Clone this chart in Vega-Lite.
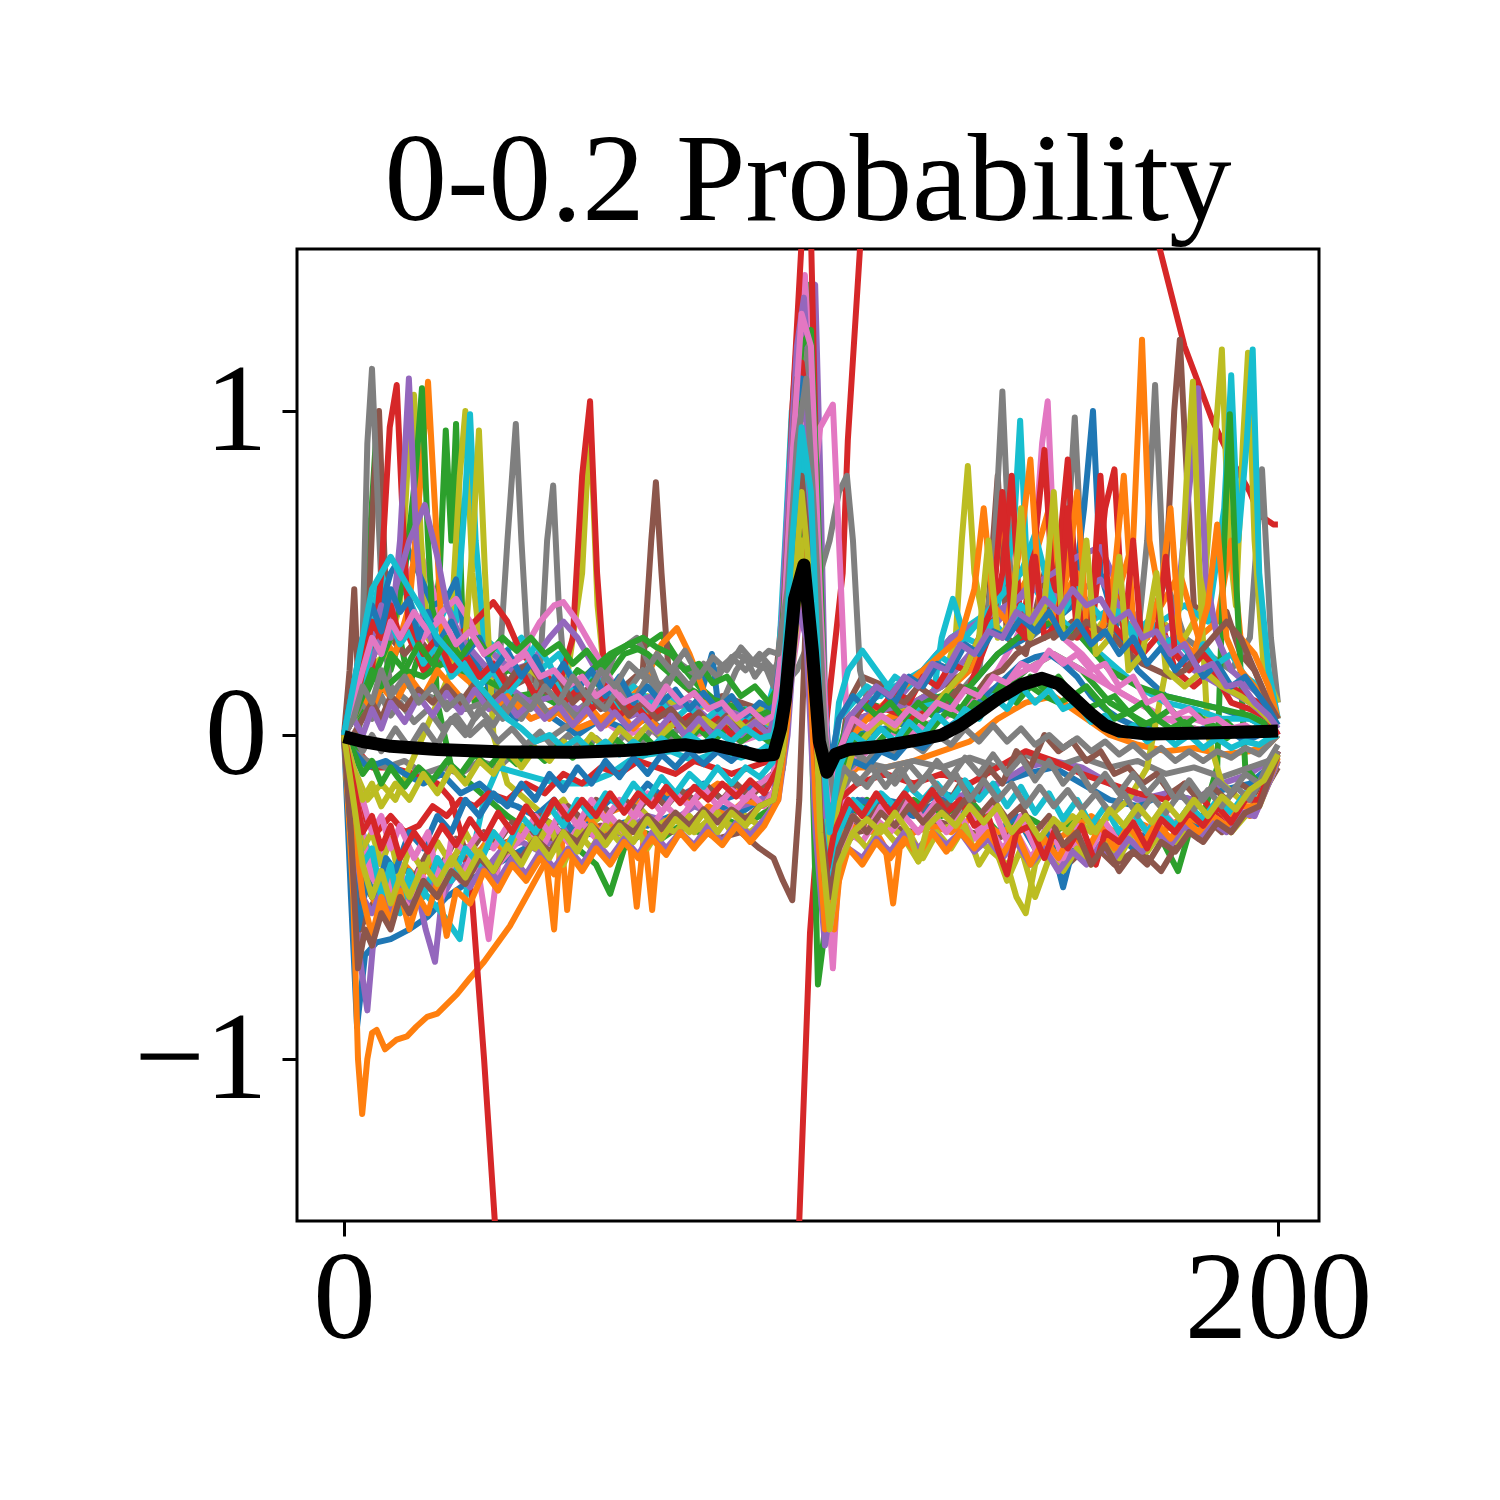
{
  "$schema": "https://vega.github.io/schema/vega-lite/v6.json",
  "width": 1022,
  "height": 972,
  "autosize": {"type": "none"},
  "padding": {"left": 297, "top": 249, "right": 181, "bottom": 279},
  "background": "white",
  "title": {
    "text": "0-0.2 Probability",
    "font": "Liberation Serif",
    "fontSize": 125,
    "fontWeight": "normal",
    "color": "black",
    "anchor": "middle",
    "baseline": "alphabetic",
    "offset": -96
  },
  "datasets": {
    "beats": [
      {"s":"s01","x":0,"y":0},{"s":"s01","x":1.5,"y":-0.5},{"s":"s01","x":2.8,"y":-0.9},{"s":"s01","x":4.5,"y":-0.68},{"s":"s01","x":7,"y":-0.64},{"s":"s01","x":10,"y":-0.63},{"s":"s01","x":14,"y":-0.6},{"s":"s01","x":18,"y":-0.56},{"s":"s01","x":22,"y":-0.5},{"s":"s01","x":26,"y":-0.46},{"s":"s01","x":30,"y":-0.42},{"s":"s01","x":35,"y":-0.38},{"s":"s01","x":40,"y":-0.34},{"s":"s01","x":45,"y":-0.33},{"s":"s01","x":50,"y":-0.3},{"s":"s01","x":55,"y":-0.31},{"s":"s01","x":60,"y":-0.27},{"s":"s01","x":65,"y":-0.28},{"s":"s01","x":70,"y":-0.25},{"s":"s01","x":75,"y":-0.26},{"s":"s01","x":80,"y":-0.22},{"s":"s01","x":85,"y":-0.24},{"s":"s01","x":89,"y":-0.2},{"s":"s01","x":92,"y":-0.18},{"s":"s01","x":94,"y":-0.05},{"s":"s01","x":96,"y":0.4},{"s":"s01","x":98,"y":0.85},{"s":"s01","x":100,"y":0.3},{"s":"s01","x":102,"y":-0.45},{"s":"s01","x":104,"y":-0.55},{"s":"s01","x":106,"y":-0.3},{"s":"s01","x":110,"y":-0.22},{"s":"s01","x":116,"y":-0.2},{"s":"s01","x":122,"y":-0.22},{"s":"s01","x":128,"y":-0.18},{"s":"s01","x":134,"y":-0.2},{"s":"s01","x":140,"y":-0.15},{"s":"s01","x":146,"y":-0.12},{"s":"s01","x":152,"y":-0.1},{"s":"s01","x":158,"y":-0.15},{"s":"s01","x":164,"y":-0.2},{"s":"s01","x":170,"y":-0.22},{"s":"s01","x":176,"y":-0.18},{"s":"s01","x":182,"y":-0.2},{"s":"s01","x":188,"y":-0.17},{"s":"s01","x":194,"y":-0.15},{"s":"s01","x":198,"y":-0.1},{"s":"s01","x":200,"y":-0.05},

      {"s":"s02","x":0,"y":0},{"s":"s02","x":2,"y":-0.5},{"s":"s02","x":3,"y":-1.0},{"s":"s02","x":3.9,"y":-1.17},{"s":"s02","x":5,"y":-1.0},{"s":"s02","x":6,"y":-0.92},{"s":"s02","x":7,"y":-0.91},{"s":"s02","x":8.8,"y":-0.97},{"s":"s02","x":11.3,"y":-0.94},{"s":"s02","x":13.5,"y":-0.93},{"s":"s02","x":15.5,"y":-0.9},{"s":"s02","x":17.8,"y":-0.87},{"s":"s02","x":20,"y":-0.86},{"s":"s02","x":24.2,"y":-0.8},{"s":"s02","x":27,"y":-0.75},{"s":"s02","x":30,"y":-0.7},{"s":"s02","x":35.5,"y":-0.59},{"s":"s02","x":39,"y":-0.5},{"s":"s02","x":42.8,"y":-0.4},{"s":"s02","x":46,"y":-0.33},{"s":"s02","x":50,"y":-0.3},{"s":"s02","x":55,"y":-0.25},{"s":"s02","x":60,"y":-0.22},{"s":"s02","x":65,"y":-0.2},{"s":"s02","x":70,"y":-0.18},{"s":"s02","x":75,"y":-0.2},{"s":"s02","x":80,"y":-0.15},{"s":"s02","x":85,"y":-0.17},{"s":"s02","x":89,"y":-0.15},{"s":"s02","x":92,"y":-0.12},{"s":"s02","x":94,"y":0.0},{"s":"s02","x":96,"y":0.3},{"s":"s02","x":98,"y":0.6},{"s":"s02","x":100,"y":0.2},{"s":"s02","x":102,"y":-0.35},{"s":"s02","x":104,"y":-0.3},{"s":"s02","x":106,"y":-0.15},{"s":"s02","x":110,"y":-0.1},{"s":"s02","x":116,"y":-0.1},{"s":"s02","x":122,"y":-0.08},{"s":"s02","x":128,"y":-0.05},{"s":"s02","x":134,"y":-0.02},{"s":"s02","x":140,"y":0.05},{"s":"s02","x":146,"y":0.1},{"s":"s02","x":152,"y":0.12},{"s":"s02","x":158,"y":0.06},{"s":"s02","x":164,"y":0.0},{"s":"s02","x":170,"y":-0.03},{"s":"s02","x":176,"y":-0.05},{"s":"s02","x":182,"y":-0.04},{"s":"s02","x":188,"y":-0.06},{"s":"s02","x":194,"y":-0.05},{"s":"s02","x":198,"y":-0.03},{"s":"s02","x":200,"y":0.0},

      {"s":"s03","x":0,"y":0},{"s":"s03","x":2,"y":0.1},{"s":"s03","x":4,"y":0.2},{"s":"s03","x":5.5,"y":0.6},{"s":"s03","x":7,"y":0.95},{"s":"s03","x":8.5,"y":0.5},{"s":"s03","x":10,"y":0.2},{"s":"s03","x":12,"y":0.3},{"s":"s03","x":14,"y":0.15},{"s":"s03","x":16,"y":0.25},{"s":"s03","x":18,"y":0.2},{"s":"s03","x":20.5,"y":0.5},{"s":"s03","x":21.8,"y":0.94},{"s":"s03","x":23,"y":0.6},{"s":"s03","x":24,"y":0.96},{"s":"s03","x":25.5,"y":0.3},{"s":"s03","x":28,"y":0.1},{"s":"s03","x":31,"y":0.15},{"s":"s03","x":35,"y":0.2},{"s":"s03","x":40,"y":0.18},{"s":"s03","x":45,"y":0.1},{"s":"s03","x":50,"y":0.2},{"s":"s03","x":55,"y":0.15},{"s":"s03","x":60,"y":0.25},{"s":"s03","x":64,"y":0.27},{"s":"s03","x":68,"y":0.31},{"s":"s03","x":72,"y":0.22},{"s":"s03","x":76,"y":0.15},{"s":"s03","x":80,"y":0.1},{"s":"s03","x":85,"y":0.05},{"s":"s03","x":89,"y":0.05},{"s":"s03","x":92,"y":0.08},{"s":"s03","x":94,"y":0.3},{"s":"s03","x":96,"y":0.8},{"s":"s03","x":98,"y":1.3},{"s":"s03","x":99.8,"y":1.39},{"s":"s03","x":101,"y":0.9},{"s":"s03","x":102.5,"y":0.0},{"s":"s03","x":104,"y":-0.4},{"s":"s03","x":106,"y":-0.2},{"s":"s03","x":110,"y":0.0},{"s":"s03","x":116,"y":0.05},{"s":"s03","x":122,"y":0.02},{"s":"s03","x":128,"y":0.0},{"s":"s03","x":134,"y":0.05},{"s":"s03","x":140,"y":0.12},{"s":"s03","x":146,"y":0.2},{"s":"s03","x":152,"y":0.25},{"s":"s03","x":158,"y":0.2},{"s":"s03","x":164,"y":0.1},{"s":"s03","x":170,"y":0.05},{"s":"s03","x":176,"y":0.0},{"s":"s03","x":182,"y":0.02},{"s":"s03","x":188,"y":0.0},{"s":"s03","x":194,"y":0.02},{"s":"s03","x":198,"y":0.0},{"s":"s03","x":200,"y":0.0},

      {"s":"s04","x":0,"y":0},{"s":"s04","x":3,"y":-0.05},{"s":"s04","x":6,"y":-0.1},{"s":"s04","x":10,"y":-0.1},{"s":"s04","x":15,"y":-0.12},{"s":"s04","x":20,"y":-0.15},{"s":"s04","x":23,"y":-0.2},{"s":"s04","x":25,"y":-0.3},{"s":"s04","x":27.4,"y":-0.5},{"s":"s04","x":30,"y":-1.0},{"s":"s04","x":32.3,"y":-1.5},{"s":"s04","x":35,"y":-2.1},{"s":"s04","x":45,"y":-3.4},{"s":"s04","x":60,"y":-4.2},{"s":"s04","x":75,"y":-4.3},{"s":"s04","x":88,"y":-3.4},{"s":"s04","x":95,"y":-2.3},{"s":"s04","x":97.5,"y":-1.5},{"s":"s04","x":99.8,"y":-0.61},{"s":"s04","x":103,"y":0.0},{"s":"s04","x":106.8,"y":0.5},{"s":"s04","x":107.9,"y":0.91},{"s":"s04","x":110.5,"y":1.5},{"s":"s04","x":115,"y":2.4},{"s":"s04","x":130,"y":3.5},{"s":"s04","x":150,"y":3.3},{"s":"s04","x":165,"y":2.5},{"s":"s04","x":172,"y":1.8},{"s":"s04","x":174.7,"y":1.5},{"s":"s04","x":180,"y":1.2},{"s":"s04","x":186,"y":0.97},{"s":"s04","x":190,"y":0.85},{"s":"s04","x":194,"y":0.75},{"s":"s04","x":196,"y":0.68},{"s":"s04","x":199,"y":0.65},{"s":"s04","x":200,"y":0.65},

      {"s":"s05","x":0,"y":0},{"s":"s05","x":2,"y":-0.4},{"s":"s05","x":3.5,"y":-0.7},{"s":"s05","x":5,"y":-0.85},{"s":"s05","x":6.5,"y":-0.6},{"s":"s05","x":8,"y":-0.55},{"s":"s05","x":10,"y":-0.5},{"s":"s05","x":12,"y":-0.55},{"s":"s05","x":14,"y":-0.45},{"s":"s05","x":16,"y":-0.5},{"s":"s05","x":17.5,"y":-0.6},{"s":"s05","x":19.5,"y":-0.7},{"s":"s05","x":21,"y":-0.5},{"s":"s05","x":23,"y":-0.45},{"s":"s05","x":26,"y":-0.4},{"s":"s05","x":30,"y":-0.42},{"s":"s05","x":34,"y":-0.35},{"s":"s05","x":38,"y":-0.33},{"s":"s05","x":42,"y":-0.36},{"s":"s05","x":46,"y":-0.3},{"s":"s05","x":50,"y":-0.28},{"s":"s05","x":55,"y":-0.32},{"s":"s05","x":60,"y":-0.3},{"s":"s05","x":65,"y":-0.25},{"s":"s05","x":70,"y":-0.27},{"s":"s05","x":75,"y":-0.22},{"s":"s05","x":80,"y":-0.25},{"s":"s05","x":85,"y":-0.22},{"s":"s05","x":89,"y":-0.2},{"s":"s05","x":92,"y":-0.18},{"s":"s05","x":94,"y":0.0},{"s":"s05","x":96,"y":0.5},{"s":"s05","x":98,"y":1.1},{"s":"s05","x":100.9,"y":1.39},{"s":"s05","x":102,"y":0.8},{"s":"s05","x":103.5,"y":-0.2},{"s":"s05","x":105,"y":-0.5},{"s":"s05","x":107,"y":-0.3},{"s":"s05","x":111,"y":-0.2},{"s":"s05","x":116,"y":-0.22},{"s":"s05","x":122,"y":-0.25},{"s":"s05","x":128,"y":-0.2},{"s":"s05","x":134,"y":-0.18},{"s":"s05","x":140,"y":-0.15},{"s":"s05","x":146,"y":-0.1},{"s":"s05","x":152,"y":-0.08},{"s":"s05","x":158,"y":-0.1},{"s":"s05","x":164,"y":-0.15},{"s":"s05","x":170,"y":-0.2},{"s":"s05","x":176,"y":-0.18},{"s":"s05","x":182,"y":-0.2},{"s":"s05","x":188,"y":-0.15},{"s":"s05","x":194,"y":-0.12},{"s":"s05","x":198,"y":-0.08},{"s":"s05","x":200,"y":-0.05},

      {"s":"s06","x":0,"y":0},{"s":"s06","x":1.2,"y":0.2},{"s":"s06","x":2.2,"y":0.45},{"s":"s06","x":3.2,"y":0.1},{"s":"s06","x":5,"y":0.3},{"s":"s06","x":6.5,"y":0.8},{"s":"s06","x":7.5,"y":1.0},{"s":"s06","x":8.8,"y":0.5},{"s":"s06","x":10,"y":0.3},{"s":"s06","x":13,"y":0.25},{"s":"s06","x":16,"y":0.3},{"s":"s06","x":20,"y":0.22},{"s":"s06","x":24,"y":0.28},{"s":"s06","x":28,"y":0.2},{"s":"s06","x":32,"y":0.22},{"s":"s06","x":36,"y":0.15},{"s":"s06","x":40,"y":0.18},{"s":"s06","x":45,"y":0.1},{"s":"s06","x":50,"y":0.12},{"s":"s06","x":55,"y":0.1},{"s":"s06","x":60,"y":0.15},{"s":"s06","x":64,"y":0.2},{"s":"s06","x":65.8,"y":0.6},{"s":"s06","x":66.8,"y":0.78},{"s":"s06","x":68,"y":0.5},{"s":"s06","x":69.5,"y":0.2},{"s":"s06","x":73,"y":0.15},{"s":"s06","x":77,"y":0.1},{"s":"s06","x":81,"y":0.12},{"s":"s06","x":85,"y":0.1},{"s":"s06","x":89,"y":0.08},{"s":"s06","x":92,"y":0.1},{"s":"s06","x":94,"y":0.4},{"s":"s06","x":96,"y":1.0},{"s":"s06","x":97.6,"y":1.35},{"s":"s06","x":99,"y":1.0},{"s":"s06","x":101,"y":0.3},{"s":"s06","x":103,"y":-0.3},{"s":"s06","x":105,"y":-0.2},{"s":"s06","x":108,"y":0.1},{"s":"s06","x":111,"y":0.18},{"s":"s06","x":116,"y":0.15},{"s":"s06","x":122,"y":0.1},{"s":"s06","x":128,"y":0.15},{"s":"s06","x":134,"y":0.2},{"s":"s06","x":138,"y":0.4},{"s":"s06","x":140,"y":0.8},{"s":"s06","x":142,"y":0.3},{"s":"s06","x":146,"y":0.25},{"s":"s06","x":150,"y":0.5},{"s":"s06","x":152,"y":0.3},{"s":"s06","x":156,"y":0.35},{"s":"s06","x":160,"y":0.3},{"s":"s06","x":164,"y":0.35},{"s":"s06","x":168,"y":0.25},{"s":"s06","x":172,"y":0.3},{"s":"s06","x":176,"y":0.5},{"s":"s06","x":177.8,"y":1.0},{"s":"s06","x":179,"y":1.22},{"s":"s06","x":180.5,"y":0.8},{"s":"s06","x":182,"y":0.4},{"s":"s06","x":186,"y":0.35},{"s":"s06","x":189,"y":0.38},{"s":"s06","x":192,"y":0.25},{"s":"s06","x":195,"y":0.2},{"s":"s06","x":198,"y":0.1},{"s":"s06","x":200,"y":0.05},

      {"s":"s07","x":0,"y":0},{"s":"s07","x":2,"y":0.1},{"s":"s07","x":5,"y":0.2},{"s":"s07","x":8,"y":0.3},{"s":"s07","x":11,"y":0.4},{"s":"s07","x":14,"y":0.5},{"s":"s07","x":16.3,"y":0.56},{"s":"s07","x":18,"y":0.5},{"s":"s07","x":20,"y":0.4},{"s":"s07","x":22,"y":0.3},{"s":"s07","x":24,"y":0.42},{"s":"s07","x":26,"y":0.3},{"s":"s07","x":29,"y":0.2},{"s":"s07","x":32,"y":0.15},{"s":"s07","x":36,"y":0.1},{"s":"s07","x":40,"y":0.05},{"s":"s07","x":45,"y":0.08},{"s":"s07","x":50,"y":0.02},{"s":"s07","x":55,"y":0.05},{"s":"s07","x":60,"y":0.0},{"s":"s07","x":65,"y":0.02},{"s":"s07","x":70,"y":-0.02},{"s":"s07","x":75,"y":0.0},{"s":"s07","x":80,"y":0.02},{"s":"s07","x":85,"y":-0.02},{"s":"s07","x":89,"y":0.0},{"s":"s07","x":92,"y":0.05},{"s":"s07","x":94,"y":0.3},{"s":"s07","x":96,"y":0.9},{"s":"s07","x":98.7,"y":1.42},{"s":"s07","x":100,"y":1.1},{"s":"s07","x":101.5,"y":0.3},{"s":"s07","x":103,"y":-0.4},{"s":"s07","x":104.7,"y":-0.72},{"s":"s07","x":106,"y":-0.4},{"s":"s07","x":108,"y":-0.1},{"s":"s07","x":112,"y":0.0},{"s":"s07","x":116,"y":0.02},{"s":"s07","x":122,"y":0.0},{"s":"s07","x":128,"y":0.05},{"s":"s07","x":134,"y":0.1},{"s":"s07","x":140,"y":0.2},{"s":"s07","x":144,"y":0.3},{"s":"s07","x":147,"y":0.4},{"s":"s07","x":149.5,"y":0.9},{"s":"s07","x":150.7,"y":1.03},{"s":"s07","x":152,"y":0.6},{"s":"s07","x":154,"y":0.3},{"s":"s07","x":158,"y":0.25},{"s":"s07","x":164,"y":0.15},{"s":"s07","x":170,"y":0.1},{"s":"s07","x":176,"y":0.05},{"s":"s07","x":182,"y":0.05},{"s":"s07","x":188,"y":0.02},{"s":"s07","x":194,"y":0.0},{"s":"s07","x":198,"y":0.0},{"s":"s07","x":200,"y":0.0},

      {"s":"s08","x":0,"y":0},{"s":"s08","x":2,"y":0.1},{"s":"s08","x":4,"y":0.3},{"s":"s08","x":5,"y":0.9},{"s":"s08","x":6,"y":1.13},{"s":"s08","x":7,"y":0.8},{"s":"s08","x":8.5,"y":0.3},{"s":"s08","x":10,"y":0.15},{"s":"s08","x":14,"y":0.1},{"s":"s08","x":18,"y":0.12},{"s":"s08","x":22,"y":0.1},{"s":"s08","x":26,"y":0.08},{"s":"s08","x":30,"y":0.1},{"s":"s08","x":33,"y":0.15},{"s":"s08","x":35,"y":0.6},{"s":"s08","x":36.8,"y":0.96},{"s":"s08","x":38,"y":0.6},{"s":"s08","x":40,"y":0.1},{"s":"s08","x":42,"y":0.2},{"s":"s08","x":43.5,"y":0.6},{"s":"s08","x":44.8,"y":0.77},{"s":"s08","x":46,"y":0.4},{"s":"s08","x":48,"y":0.05},{"s":"s08","x":52,"y":0.1},{"s":"s08","x":56,"y":0.08},{"s":"s08","x":60,"y":0.12},{"s":"s08","x":64,"y":0.2},{"s":"s08","x":68,"y":0.15},{"s":"s08","x":72,"y":0.22},{"s":"s08","x":76,"y":0.18},{"s":"s08","x":80,"y":0.2},{"s":"s08","x":84,"y":0.25},{"s":"s08","x":88,"y":0.22},{"s":"s08","x":91,"y":0.2},{"s":"s08","x":94,"y":0.15},{"s":"s08","x":97,"y":0.2},{"s":"s08","x":100,"y":0.3},{"s":"s08","x":102,"y":0.5},{"s":"s08","x":104,"y":0.6},{"s":"s08","x":106,"y":0.75},{"s":"s08","x":107.7,"y":0.8},{"s":"s08","x":109,"y":0.6},{"s":"s08","x":110.5,"y":0.2},{"s":"s08","x":113,"y":0.05},{"s":"s08","x":118,"y":0.05},{"s":"s08","x":124,"y":0.08},{"s":"s08","x":130,"y":0.1},{"s":"s08","x":136,"y":0.2},{"s":"s08","x":139,"y":0.5},{"s":"s08","x":141,"y":1.06},{"s":"s08","x":143,"y":0.4},{"s":"s08","x":147,"y":0.3},{"s":"s08","x":151,"y":0.35},{"s":"s08","x":154,"y":0.4},{"s":"s08","x":156.5,"y":0.98},{"s":"s08","x":158.5,"y":0.4},{"s":"s08","x":162,"y":0.3},{"s":"s08","x":166,"y":0.35},{"s":"s08","x":170,"y":0.3},{"s":"s08","x":172,"y":0.6},{"s":"s08","x":173.7,"y":1.08},{"s":"s08","x":175.5,"y":0.5},{"s":"s08","x":180,"y":0.3},{"s":"s08","x":185,"y":0.25},{"s":"s08","x":190,"y":0.2},{"s":"s08","x":194,"y":0.3},{"s":"s08","x":196.6,"y":0.82},{"s":"s08","x":198.5,"y":0.3},{"s":"s08","x":200,"y":0.1},

      {"s":"s09","x":0,"y":0},{"s":"s09","x":2,"y":0.1},{"s":"s09","x":5,"y":0.2},{"s":"s09","x":9,"y":0.25},{"s":"s09","x":12,"y":0.4},{"s":"s09","x":13.5,"y":0.8},{"s":"s09","x":15,"y":1.05},{"s":"s09","x":16.5,"y":0.6},{"s":"s09","x":18,"y":0.3},{"s":"s09","x":20,"y":0.25},{"s":"s09","x":23,"y":0.35},{"s":"s09","x":24.8,"y":0.8},{"s":"s09","x":26,"y":1.0},{"s":"s09","x":27.5,"y":0.5},{"s":"s09","x":29,"y":0.3},{"s":"s09","x":32,"y":0.25},{"s":"s09","x":36,"y":0.2},{"s":"s09","x":40,"y":0.2},{"s":"s09","x":44,"y":0.15},{"s":"s09","x":48,"y":0.2},{"s":"s09","x":51,"y":0.5},{"s":"s09","x":52.7,"y":0.98},{"s":"s09","x":54.3,"y":0.4},{"s":"s09","x":56,"y":0.15},{"s":"s09","x":60,"y":0.1},{"s":"s09","x":65,"y":0.12},{"s":"s09","x":70,"y":0.1},{"s":"s09","x":75,"y":0.08},{"s":"s09","x":80,"y":0.1},{"s":"s09","x":85,"y":0.05},{"s":"s09","x":89,"y":0.08},{"s":"s09","x":92,"y":0.1},{"s":"s09","x":94,"y":0.3},{"s":"s09","x":96,"y":0.7},{"s":"s09","x":98,"y":1.1},{"s":"s09","x":99.5,"y":1.2},{"s":"s09","x":101,"y":0.7},{"s":"s09","x":102.5,"y":0.0},{"s":"s09","x":104,"y":-0.3},{"s":"s09","x":106,"y":-0.15},{"s":"s09","x":110,"y":0.0},{"s":"s09","x":116,"y":0.05},{"s":"s09","x":122,"y":0.1},{"s":"s09","x":128,"y":0.15},{"s":"s09","x":131,"y":0.3},{"s":"s09","x":132.3,"y":0.6},{"s":"s09","x":133.6,"y":0.83},{"s":"s09","x":135,"y":0.5},{"s":"s09","x":137,"y":0.35},{"s":"s09","x":141,"y":0.3},{"s":"s09","x":146,"y":0.4},{"s":"s09","x":150,"y":0.35},{"s":"s09","x":155,"y":0.45},{"s":"s09","x":160,"y":0.3},{"s":"s09","x":165,"y":0.4},{"s":"s09","x":170,"y":0.3},{"s":"s09","x":175,"y":0.35},{"s":"s09","x":180,"y":0.3},{"s":"s09","x":184,"y":0.4},{"s":"s09","x":186.5,"y":0.9},{"s":"s09","x":188,"y":1.19},{"s":"s09","x":189.5,"y":0.6},{"s":"s09","x":191,"y":0.4},{"s":"s09","x":192.5,"y":0.9},{"s":"s09","x":193.6,"y":1.18},{"s":"s09","x":195,"y":0.6},{"s":"s09","x":197,"y":0.2},{"s":"s09","x":200,"y":0.1},

      {"s":"s10","x":0,"y":0},{"s":"s10","x":2,"y":0.15},{"s":"s10","x":5,"y":0.3},{"s":"s10","x":8,"y":0.5},{"s":"s10","x":10,"y":0.4},{"s":"s10","x":13,"y":0.45},{"s":"s10","x":16,"y":0.35},{"s":"s10","x":19,"y":0.3},{"s":"s10","x":22,"y":0.4},{"s":"s10","x":24,"y":0.35},{"s":"s10","x":25.8,"y":0.7},{"s":"s10","x":27,"y":0.99},{"s":"s10","x":28.2,"y":0.6},{"s":"s10","x":30,"y":0.3},{"s":"s10","x":34,"y":0.25},{"s":"s10","x":38,"y":0.3},{"s":"s10","x":42,"y":0.2},{"s":"s10","x":46,"y":0.25},{"s":"s10","x":50,"y":0.15},{"s":"s10","x":54,"y":0.2},{"s":"s10","x":58,"y":0.1},{"s":"s10","x":62,"y":0.15},{"s":"s10","x":66,"y":0.1},{"s":"s10","x":70,"y":0.12},{"s":"s10","x":74,"y":0.08},{"s":"s10","x":78,"y":0.1},{"s":"s10","x":82,"y":0.05},{"s":"s10","x":86,"y":0.08},{"s":"s10","x":90,"y":0.05},{"s":"s10","x":93,"y":0.2},{"s":"s10","x":94.5,"y":0.6},{"s":"s10","x":95.9,"y":1.0},{"s":"s10","x":97.5,"y":0.9},{"s":"s10","x":99,"y":0.4},{"s":"s10","x":101,"y":0.0},{"s":"s10","x":103,"y":-0.4},{"s":"s10","x":105,"y":-0.2},{"s":"s10","x":108,"y":0.05},{"s":"s10","x":112,"y":0.1},{"s":"s10","x":118,"y":0.15},{"s":"s10","x":124,"y":0.2},{"s":"s10","x":130,"y":0.3},{"s":"s10","x":135,"y":0.35},{"s":"s10","x":140,"y":0.4},{"s":"s10","x":143.3,"y":0.6},{"s":"s10","x":144.8,"y":0.97},{"s":"s10","x":146.3,"y":0.5},{"s":"s10","x":150,"y":0.4},{"s":"s10","x":155,"y":0.45},{"s":"s10","x":160,"y":0.35},{"s":"s10","x":165,"y":0.4},{"s":"s10","x":170,"y":0.3},{"s":"s10","x":175,"y":0.35},{"s":"s10","x":180,"y":0.4},{"s":"s10","x":185,"y":0.35},{"s":"s10","x":188.5,"y":0.7},{"s":"s10","x":190,"y":1.11},{"s":"s10","x":191.5,"y":0.6},{"s":"s10","x":193.3,"y":0.9},{"s":"s10","x":194.6,"y":1.19},{"s":"s10","x":196,"y":0.5},{"s":"s10","x":198,"y":0.2},{"s":"s10","x":200,"y":0.05},

      {"s":"s11","x":0,"y":0},{"s":"s11","x":2,"y":0.1},{"s":"s11","x":4,"y":0.2},{"s":"s11","x":7,"y":0.35},{"s":"s11","x":10,"y":0.5},{"s":"s11","x":13.5,"y":0.58},{"s":"s11","x":16,"y":0.5},{"s":"s11","x":19,"y":0.4},{"s":"s11","x":22,"y":0.42},{"s":"s11","x":24,"y":0.48},{"s":"s11","x":26,"y":0.3},{"s":"s11","x":29,"y":0.2},{"s":"s11","x":33,"y":0.1},{"s":"s11","x":37,"y":0.05},{"s":"s11","x":41,"y":0.1},{"s":"s11","x":45,"y":0.05},{"s":"s11","x":50,"y":0.0},{"s":"s11","x":55,"y":0.05},{"s":"s11","x":60,"y":0.02},{"s":"s11","x":65,"y":0.05},{"s":"s11","x":70,"y":0.0},{"s":"s11","x":74,"y":0.05},{"s":"s11","x":76,"y":0.1},{"s":"s11","x":78.8,"y":0.25},{"s":"s11","x":80.5,"y":0.05},{"s":"s11","x":84,"y":0.0},{"s":"s11","x":88,"y":0.02},{"s":"s11","x":91,"y":0.0},{"s":"s11","x":93,"y":0.05},{"s":"s11","x":95,"y":0.4},{"s":"s11","x":97,"y":0.8},{"s":"s11","x":99,"y":0.9},{"s":"s11","x":100.5,"y":0.5},{"s":"s11","x":102,"y":-0.2},{"s":"s11","x":104,"y":-0.3},{"s":"s11","x":106,"y":-0.1},{"s":"s11","x":110,"y":0.0},{"s":"s11","x":116,"y":0.02},{"s":"s11","x":122,"y":0.05},{"s":"s11","x":128,"y":0.08},{"s":"s11","x":134,"y":0.15},{"s":"s11","x":140,"y":0.25},{"s":"s11","x":146,"y":0.3},{"s":"s11","x":152,"y":0.35},{"s":"s11","x":156,"y":0.4},{"s":"s11","x":158.5,"y":0.7},{"s":"s11","x":160.4,"y":1.0},{"s":"s11","x":162,"y":0.5},{"s":"s11","x":166,"y":0.3},{"s":"s11","x":170,"y":0.2},{"s":"s11","x":176,"y":0.12},{"s":"s11","x":182,"y":0.1},{"s":"s11","x":188,"y":0.08},{"s":"s11","x":194,"y":0.05},{"s":"s11","x":198,"y":0.02},{"s":"s11","x":200,"y":0.0},

      {"s":"s12","x":0,"y":0},{"s":"s12","x":2,"y":0.1},{"s":"s12","x":5,"y":0.2},{"s":"s12","x":8,"y":0.3},{"s":"s12","x":11,"y":0.25},{"s":"s12","x":14,"y":0.4},{"s":"s12","x":16.5,"y":0.8},{"s":"s12","x":18,"y":1.09},{"s":"s12","x":19.5,"y":0.7},{"s":"s12","x":21,"y":0.3},{"s":"s12","x":24,"y":0.2},{"s":"s12","x":28,"y":0.15},{"s":"s12","x":32,"y":0.1},{"s":"s12","x":36,"y":0.12},{"s":"s12","x":40,"y":0.05},{"s":"s12","x":45,"y":0.08},{"s":"s12","x":50,"y":0.02},{"s":"s12","x":55,"y":0.05},{"s":"s12","x":60,"y":0.1},{"s":"s12","x":64,"y":0.15},{"s":"s12","x":68,"y":0.28},{"s":"s12","x":71.3,"y":0.33},{"s":"s12","x":74,"y":0.25},{"s":"s12","x":78,"y":0.1},{"s":"s12","x":82,"y":0.05},{"s":"s12","x":86,"y":0.02},{"s":"s12","x":90,"y":0.0},{"s":"s12","x":93,"y":0.05},{"s":"s12","x":95,"y":0.2},{"s":"s12","x":97,"y":0.5},{"s":"s12","x":98.8,"y":0.55},{"s":"s12","x":100.5,"y":0.3},{"s":"s12","x":102,"y":-0.1},{"s":"s12","x":104,"y":-0.2},{"s":"s12","x":106,"y":-0.05},{"s":"s12","x":110,"y":0.05},{"s":"s12","x":116,"y":0.05},{"s":"s12","x":122,"y":0.08},{"s":"s12","x":128,"y":0.12},{"s":"s12","x":134,"y":0.2},{"s":"s12","x":138,"y":0.3},{"s":"s12","x":141,"y":0.7},{"s":"s12","x":143,"y":0.4},{"s":"s12","x":147,"y":0.5},{"s":"s12","x":151,"y":0.7},{"s":"s12","x":153,"y":0.4},{"s":"s12","x":157,"y":0.5},{"s":"s12","x":161,"y":0.3},{"s":"s12","x":165,"y":0.4},{"s":"s12","x":169,"y":0.6},{"s":"s12","x":170.9,"y":1.22},{"s":"s12","x":172.5,"y":0.6},{"s":"s12","x":175,"y":0.4},{"s":"s12","x":179,"y":0.5},{"s":"s12","x":183,"y":0.3},{"s":"s12","x":187,"y":0.35},{"s":"s12","x":190,"y":0.6},{"s":"s12","x":192,"y":0.3},{"s":"s12","x":195,"y":0.25},{"s":"s12","x":198,"y":0.15},{"s":"s12","x":200,"y":0.05},

      {"s":"s13","x":0,"y":0},{"s":"s13","x":2,"y":-0.1},{"s":"s13","x":4,"y":0.1},{"s":"s13","x":7,"y":0.2},{"s":"s13","x":10,"y":0.3},{"s":"s13","x":13,"y":0.5},{"s":"s13","x":15.3,"y":0.8},{"s":"s13","x":16.7,"y":1.07},{"s":"s13","x":18,"y":0.6},{"s":"s13","x":20,"y":0.1},{"s":"s13","x":23,"y":-0.1},{"s":"s13","x":27,"y":-0.15},{"s":"s13","x":31,"y":-0.2},{"s":"s13","x":35,"y":-0.25},{"s":"s13","x":40,"y":-0.3},{"s":"s13","x":45,"y":-0.28},{"s":"s13","x":50,"y":-0.35},{"s":"s13","x":54,"y":-0.4},{"s":"s13","x":57,"y":-0.49},{"s":"s13","x":60,"y":-0.35},{"s":"s13","x":64,"y":-0.3},{"s":"s13","x":68,"y":-0.32},{"s":"s13","x":72,"y":-0.28},{"s":"s13","x":76,"y":-0.3},{"s":"s13","x":80,"y":-0.25},{"s":"s13","x":85,"y":-0.28},{"s":"s13","x":89,"y":-0.25},{"s":"s13","x":92,"y":-0.22},{"s":"s13","x":94,"y":-0.1},{"s":"s13","x":96,"y":0.3},{"s":"s13","x":98,"y":0.7},{"s":"s13","x":99.5,"y":0.5},{"s":"s13","x":100.5,"y":-0.2},{"s":"s13","x":101.5,"y":-0.77},{"s":"s13","x":103,"y":-0.6},{"s":"s13","x":105,"y":-0.35},{"s":"s13","x":108,"y":-0.25},{"s":"s13","x":112,"y":-0.2},{"s":"s13","x":116,"y":-0.25},{"s":"s13","x":122,"y":-0.2},{"s":"s13","x":128,"y":-0.25},{"s":"s13","x":134,"y":-0.2},{"s":"s13","x":140,"y":-0.3},{"s":"s13","x":146,"y":-0.25},{"s":"s13","x":152,"y":-0.3},{"s":"s13","x":158,"y":-0.25},{"s":"s13","x":164,"y":-0.3},{"s":"s13","x":170,"y":-0.28},{"s":"s13","x":175,"y":-0.32},{"s":"s13","x":178.6,"y":-0.42},{"s":"s13","x":181,"y":-0.3},{"s":"s13","x":184,"y":-0.25},{"s":"s13","x":187,"y":-0.1},{"s":"s13","x":188.5,"y":0.6},{"s":"s13","x":189.7,"y":0.99},{"s":"s13","x":191,"y":0.5},{"s":"s13","x":193,"y":-0.1},{"s":"s13","x":196,"y":-0.15},{"s":"s13","x":198,"y":-0.1},{"s":"s13","x":200,"y":-0.05},

      {"s":"s14","x":0,"y":0},{"s":"s14","x":2,"y":0.1},{"s":"s14","x":4,"y":0.3},{"s":"s14","x":6,"y":0.2},{"s":"s14","x":8,"y":0.5},{"s":"s14","x":9.8,"y":0.95},{"s":"s14","x":11.3,"y":1.08},{"s":"s14","x":12.8,"y":0.6},{"s":"s14","x":14,"y":0.3},{"s":"s14","x":17,"y":0.2},{"s":"s14","x":20,"y":0.25},{"s":"s14","x":24,"y":0.3},{"s":"s14","x":28,"y":0.35},{"s":"s14","x":32,"y":0.41},{"s":"s14","x":35,"y":0.35},{"s":"s14","x":38,"y":0.25},{"s":"s14","x":42,"y":0.2},{"s":"s14","x":46,"y":0.15},{"s":"s14","x":49,"y":0.3},{"s":"s14","x":51,"y":0.8},{"s":"s14","x":52.7,"y":1.03},{"s":"s14","x":54.2,"y":0.5},{"s":"s14","x":56,"y":0.15},{"s":"s14","x":60,"y":0.1},{"s":"s14","x":64,"y":0.05},{"s":"s14","x":68,"y":0.08},{"s":"s14","x":72,"y":0.05},{"s":"s14","x":76,"y":0.02},{"s":"s14","x":80,"y":0.05},{"s":"s14","x":84,"y":0.0},{"s":"s14","x":88,"y":0.02},{"s":"s14","x":92,"y":0.05},{"s":"s14","x":94,"y":0.3},{"s":"s14","x":96,"y":1.0},{"s":"s14","x":98.3,"y":1.6},{"s":"s14","x":100,"y":1.55},{"s":"s14","x":101.5,"y":0.6},{"s":"s14","x":103,"y":-0.2},{"s":"s14","x":105,"y":-0.35},{"s":"s14","x":107,"y":-0.1},{"s":"s14","x":110,"y":0.05},{"s":"s14","x":116,"y":0.08},{"s":"s14","x":122,"y":0.05},{"s":"s14","x":128,"y":0.1},{"s":"s14","x":134,"y":0.15},{"s":"s14","x":138,"y":0.3},{"s":"s14","x":141,"y":0.5},{"s":"s14","x":143,"y":0.8},{"s":"s14","x":145,"y":0.3},{"s":"s14","x":148,"y":0.6},{"s":"s14","x":150,"y":0.88},{"s":"s14","x":152,"y":0.4},{"s":"s14","x":155,"y":0.85},{"s":"s14","x":157,"y":0.4},{"s":"s14","x":160,"y":0.3},{"s":"s14","x":163,"y":0.7},{"s":"s14","x":165,"y":0.82},{"s":"s14","x":167,"y":0.3},{"s":"s14","x":170,"y":0.25},{"s":"s14","x":174,"y":0.4},{"s":"s14","x":178,"y":0.2},{"s":"s14","x":182,"y":0.15},{"s":"s14","x":186,"y":0.2},{"s":"s14","x":190,"y":0.1},{"s":"s14","x":194,"y":0.08},{"s":"s14","x":198,"y":0.05},{"s":"s14","x":200,"y":0.0},

      {"s":"s15","x":0,"y":0},{"s":"s15","x":2,"y":0.1},{"s":"s15","x":5,"y":0.25},{"s":"s15","x":8,"y":0.4},{"s":"s15","x":10,"y":0.3},{"s":"s15","x":12,"y":0.6},{"s":"s15","x":13.9,"y":1.1},{"s":"s15","x":15.5,"y":0.6},{"s":"s15","x":17,"y":0.35},{"s":"s15","x":20,"y":0.25},{"s":"s15","x":24,"y":0.2},{"s":"s15","x":28,"y":0.3},{"s":"s15","x":32,"y":0.25},{"s":"s15","x":36,"y":0.2},{"s":"s15","x":40,"y":0.22},{"s":"s15","x":44,"y":0.3},{"s":"s15","x":47,"y":0.35},{"s":"s15","x":50,"y":0.3},{"s":"s15","x":54,"y":0.2},{"s":"s15","x":58,"y":0.15},{"s":"s15","x":62,"y":0.1},{"s":"s15","x":66,"y":0.12},{"s":"s15","x":70,"y":0.08},{"s":"s15","x":74,"y":0.1},{"s":"s15","x":78,"y":0.05},{"s":"s15","x":82,"y":0.08},{"s":"s15","x":86,"y":0.05},{"s":"s15","x":90,"y":0.05},{"s":"s15","x":93,"y":0.15},{"s":"s15","x":95,"y":0.7},{"s":"s15","x":97,"y":1.2},{"s":"s15","x":98.5,"y":1.35},{"s":"s15","x":100,"y":1.0},{"s":"s15","x":101.5,"y":0.4},{"s":"s15","x":103,"y":-0.1},{"s":"s15","x":105,"y":-0.2},{"s":"s15","x":108,"y":0.0},{"s":"s15","x":112,"y":0.05},{"s":"s15","x":118,"y":0.1},{"s":"s15","x":124,"y":0.2},{"s":"s15","x":130,"y":0.3},{"s":"s15","x":136,"y":0.35},{"s":"s15","x":142,"y":0.4},{"s":"s15","x":148,"y":0.45},{"s":"s15","x":154,"y":0.42},{"s":"s15","x":158,"y":0.45},{"s":"s15","x":162,"y":0.48},{"s":"s15","x":166,"y":0.4},{"s":"s15","x":170,"y":0.35},{"s":"s15","x":174,"y":0.3},{"s":"s15","x":178,"y":0.35},{"s":"s15","x":181.3,"y":0.8},{"s":"s15","x":182.9,"y":1.07},{"s":"s15","x":184.5,"y":0.5},{"s":"s15","x":187,"y":0.3},{"s":"s15","x":190,"y":0.2},{"s":"s15","x":194,"y":0.15},{"s":"s15","x":198,"y":0.1},{"s":"s15","x":200,"y":0.05},

      {"s":"s16","x":0,"y":0},{"s":"s16","x":2,"y":-0.3},{"s":"s16","x":3.5,"y":-0.6},{"s":"s16","x":5,"y":-0.55},{"s":"s16","x":7,"y":-0.5},{"s":"s16","x":10,"y":-0.48},{"s":"s16","x":13,"y":-0.45},{"s":"s16","x":17,"y":-0.42},{"s":"s16","x":21,"y":-0.4},{"s":"s16","x":25,"y":-0.38},{"s":"s16","x":30,"y":-0.35},{"s":"s16","x":35,"y":-0.33},{"s":"s16","x":40,"y":-0.3},{"s":"s16","x":45,"y":-0.32},{"s":"s16","x":50,"y":-0.3},{"s":"s16","x":55,"y":-0.28},{"s":"s16","x":60,"y":-0.3},{"s":"s16","x":65,"y":-0.27},{"s":"s16","x":70,"y":-0.3},{"s":"s16","x":75,"y":-0.28},{"s":"s16","x":80,"y":-0.32},{"s":"s16","x":85,"y":-0.3},{"s":"s16","x":89,"y":-0.35},{"s":"s16","x":92,"y":-0.38},{"s":"s16","x":94,"y":-0.45},{"s":"s16","x":96,"y":-0.51},{"s":"s16","x":97.5,"y":-0.2},{"s":"s16","x":99,"y":0.4},{"s":"s16","x":100.5,"y":0.2},{"s":"s16","x":102,"y":-0.4},{"s":"s16","x":104,"y":-0.5},{"s":"s16","x":106,"y":-0.35},{"s":"s16","x":110,"y":-0.3},{"s":"s16","x":116,"y":-0.28},{"s":"s16","x":122,"y":-0.3},{"s":"s16","x":128,"y":-0.27},{"s":"s16","x":134,"y":-0.3},{"s":"s16","x":140,"y":-0.32},{"s":"s16","x":145,"y":-0.28},{"s":"s16","x":150,"y":-0.35},{"s":"s16","x":155,"y":-0.4},{"s":"s16","x":160,"y":-0.33},{"s":"s16","x":165,"y":-0.4},{"s":"s16","x":170,"y":-0.35},{"s":"s16","x":175,"y":-0.42},{"s":"s16","x":180,"y":-0.3},{"s":"s16","x":184,"y":-0.25},{"s":"s16","x":188,"y":-0.3},{"s":"s16","x":192,"y":-0.25},{"s":"s16","x":196,"y":-0.2},{"s":"s16","x":198,"y":-0.15},{"s":"s16","x":200,"y":-0.1},

      {"s":"s17","x":0,"y":0},{"s":"s17","x":2,"y":0.05},{"s":"s17","x":5,"y":0.1},{"s":"s17","x":9,"y":0.15},{"s":"s17","x":13,"y":0.2},{"s":"s17","x":17,"y":0.3},{"s":"s17","x":21,"y":0.38},{"s":"s17","x":24,"y":0.42},{"s":"s17","x":27,"y":0.35},{"s":"s17","x":30,"y":0.25},{"s":"s17","x":34,"y":0.2},{"s":"s17","x":38,"y":0.25},{"s":"s17","x":42,"y":0.35},{"s":"s17","x":45,"y":0.4},{"s":"s17","x":47,"y":0.41},{"s":"s17","x":50,"y":0.35},{"s":"s17","x":54,"y":0.25},{"s":"s17","x":58,"y":0.15},{"s":"s17","x":62,"y":0.1},{"s":"s17","x":66,"y":0.08},{"s":"s17","x":70,"y":0.05},{"s":"s17","x":75,"y":0.02},{"s":"s17","x":80,"y":0.0},{"s":"s17","x":85,"y":0.02},{"s":"s17","x":89,"y":0.0},{"s":"s17","x":92,"y":0.02},{"s":"s17","x":95,"y":0.1},{"s":"s17","x":98,"y":0.4},{"s":"s17","x":100,"y":0.7},{"s":"s17","x":102,"y":0.95},{"s":"s17","x":104.7,"y":1.02},{"s":"s17","x":106,"y":0.6},{"s":"s17","x":107.5,"y":0.1},{"s":"s17","x":109,"y":-0.1},{"s":"s17","x":112,"y":-0.05},{"s":"s17","x":116,"y":0.0},{"s":"s17","x":122,"y":0.02},{"s":"s17","x":128,"y":0.05},{"s":"s17","x":134,"y":0.1},{"s":"s17","x":140,"y":0.15},{"s":"s17","x":146,"y":0.2},{"s":"s17","x":152,"y":0.25},{"s":"s17","x":158,"y":0.2},{"s":"s17","x":164,"y":0.15},{"s":"s17","x":170,"y":0.1},{"s":"s17","x":176,"y":0.05},{"s":"s17","x":182,"y":0.02},{"s":"s17","x":188,"y":0.0},{"s":"s17","x":194,"y":0.0},{"s":"s17","x":198,"y":0.0},{"s":"s17","x":200,"y":0.0},

      {"s":"s18","x":0,"y":0},{"s":"s18","x":2,"y":-0.05},{"s":"s18","x":5,"y":-0.08},{"s":"s18","x":9,"y":-0.1},{"s":"s18","x":13,"y":-0.08},{"s":"s18","x":17,"y":-0.12},{"s":"s18","x":21,"y":-0.1},{"s":"s18","x":25,"y":-0.12},{"s":"s18","x":29,"y":-0.08},{"s":"s18","x":33,"y":-0.1},{"s":"s18","x":37,"y":-0.05},{"s":"s18","x":41,"y":-0.02},{"s":"s18","x":45,"y":0.0},{"s":"s18","x":50,"y":0.05},{"s":"s18","x":55,"y":0.15},{"s":"s18","x":58,"y":0.25},{"s":"s18","x":62.7,"y":0.3},{"s":"s18","x":66,"y":0.2},{"s":"s18","x":70,"y":0.05},{"s":"s18","x":74,"y":-0.02},{"s":"s18","x":78,"y":-0.05},{"s":"s18","x":82,"y":-0.03},{"s":"s18","x":86,"y":-0.05},{"s":"s18","x":90,"y":-0.06},{"s":"s18","x":93,"y":0.0},{"s":"s18","x":95,"y":0.4},{"s":"s18","x":97.5,"y":1.0},{"s":"s18","x":99.8,"y":1.23},{"s":"s18","x":101.5,"y":0.6},{"s":"s18","x":103,"y":-0.1},{"s":"s18","x":105,"y":-0.25},{"s":"s18","x":107,"y":-0.12},{"s":"s18","x":110,"y":-0.08},{"s":"s18","x":116,"y":-0.1},{"s":"s18","x":122,"y":-0.08},{"s":"s18","x":128,"y":-0.1},{"s":"s18","x":134,"y":-0.07},{"s":"s18","x":140,"y":-0.1},{"s":"s18","x":146,"y":-0.06},{"s":"s18","x":152,"y":-0.1},{"s":"s18","x":158,"y":-0.07},{"s":"s18","x":164,"y":-0.1},{"s":"s18","x":170,"y":-0.08},{"s":"s18","x":176,"y":-0.12},{"s":"s18","x":182,"y":-0.1},{"s":"s18","x":188,"y":-0.13},{"s":"s18","x":194,"y":-0.1},{"s":"s18","x":198,"y":-0.08},{"s":"s18","x":200,"y":-0.05},

      {"s":"s19","x":0,"y":0},{"s":"s19","x":2,"y":-0.1},{"s":"s19","x":5,"y":-0.2},{"s":"s19","x":8,"y":-0.15},{"s":"s19","x":11,"y":-0.2},{"s":"s19","x":14,"y":-0.1},{"s":"s19","x":17,"y":0.0},{"s":"s19","x":20,"y":0.1},{"s":"s19","x":23,"y":0.2},{"s":"s19","x":26,"y":0.3},{"s":"s19","x":27.6,"y":0.6},{"s":"s19","x":28.9,"y":0.94},{"s":"s19","x":30.2,"y":0.5},{"s":"s19","x":32,"y":0.0},{"s":"s19","x":35,"y":-0.15},{"s":"s19","x":39,"y":-0.2},{"s":"s19","x":43,"y":-0.25},{"s":"s19","x":47,"y":-0.2},{"s":"s19","x":51,"y":-0.3},{"s":"s19","x":55,"y":-0.25},{"s":"s19","x":59,"y":-0.3},{"s":"s19","x":63,"y":-0.22},{"s":"s19","x":67,"y":-0.28},{"s":"s19","x":71,"y":-0.25},{"s":"s19","x":75,"y":-0.3},{"s":"s19","x":79,"y":-0.25},{"s":"s19","x":83,"y":-0.28},{"s":"s19","x":87,"y":-0.3},{"s":"s19","x":91,"y":-0.25},{"s":"s19","x":94,"y":-0.1},{"s":"s19","x":96,"y":0.2},{"s":"s19","x":98.5,"y":0.6},{"s":"s19","x":100.9,"y":0.7},{"s":"s19","x":102.5,"y":0.2},{"s":"s19","x":104,"y":-0.3},{"s":"s19","x":106,"y":-0.35},{"s":"s19","x":109,"y":-0.25},{"s":"s19","x":113,"y":-0.3},{"s":"s19","x":117,"y":-0.28},{"s":"s19","x":120,"y":-0.32},{"s":"s19","x":123,"y":-0.39},{"s":"s19","x":126,"y":-0.3},{"s":"s19","x":130,"y":-0.28},{"s":"s19","x":134,"y":-0.3},{"s":"s19","x":138,"y":-0.35},{"s":"s19","x":142,"y":-0.4},{"s":"s19","x":144,"y":-0.5},{"s":"s19","x":146,"y":-0.55},{"s":"s19","x":148,"y":-0.4},{"s":"s19","x":152,"y":-0.3},{"s":"s19","x":156,"y":-0.25},{"s":"s19","x":160,"y":-0.3},{"s":"s19","x":164,"y":-0.25},{"s":"s19","x":168,"y":-0.2},{"s":"s19","x":172,"y":-0.1},{"s":"s19","x":176,"y":0.2},{"s":"s19","x":179,"y":0.4},{"s":"s19","x":180.5,"y":0.8},{"s":"s19","x":181.8,"y":1.09},{"s":"s19","x":183.2,"y":0.5},{"s":"s19","x":185,"y":0.0},{"s":"s19","x":188,"y":-0.15},{"s":"s19","x":192,"y":-0.2},{"s":"s19","x":196,"y":-0.15},{"s":"s19","x":198,"y":-0.1},{"s":"s19","x":200,"y":-0.05},

      {"s":"s20","x":0,"y":0},{"s":"s20","x":2,"y":-0.1},{"s":"s20","x":4,"y":-0.3},{"s":"s20","x":6,"y":-0.4},{"s":"s20","x":9,"y":-0.45},{"s":"s20","x":12,"y":-0.5},{"s":"s20","x":15,"y":-0.45},{"s":"s20","x":18,"y":-0.5},{"s":"s20","x":21,"y":-0.55},{"s":"s20","x":24.8,"y":-0.63},{"s":"s20","x":27,"y":-0.4},{"s":"s20","x":30,"y":-0.2},{"s":"s20","x":33,"y":-0.1},{"s":"s20","x":38,"y":-0.12},{"s":"s20","x":43,"y":-0.14},{"s":"s20","x":48,"y":-0.15},{"s":"s20","x":52,"y":-0.15},{"s":"s20","x":57,"y":-0.12},{"s":"s20","x":61,"y":-0.08},{"s":"s20","x":65,"y":-0.06},{"s":"s20","x":70,"y":-0.05},{"s":"s20","x":75,"y":-0.08},{"s":"s20","x":80,"y":-0.05},{"s":"s20","x":85,"y":-0.07},{"s":"s20","x":89,"y":-0.05},{"s":"s20","x":92,"y":-0.02},{"s":"s20","x":94,"y":0.2},{"s":"s20","x":96,"y":0.7},{"s":"s20","x":98,"y":1.1},{"s":"s20","x":100,"y":0.9},{"s":"s20","x":102,"y":0.2},{"s":"s20","x":104,"y":-0.2},{"s":"s20","x":106,"y":0.1},{"s":"s20","x":108,"y":0.2},{"s":"s20","x":111,"y":0.26},{"s":"s20","x":114,"y":0.2},{"s":"s20","x":118,"y":0.12},{"s":"s20","x":122,"y":0.08},{"s":"s20","x":126,"y":0.1},{"s":"s20","x":128,"y":0.3},{"s":"s20","x":130.4,"y":0.42},{"s":"s20","x":133,"y":0.3},{"s":"s20","x":136,"y":0.35},{"s":"s20","x":139,"y":0.4},{"s":"s20","x":142,"y":0.45},{"s":"s20","x":145,"y":0.5},{"s":"s20","x":148,"y":0.62},{"s":"s20","x":151,"y":0.45},{"s":"s20","x":154,"y":0.35},{"s":"s20","x":158,"y":0.3},{"s":"s20","x":162,"y":0.25},{"s":"s20","x":166,"y":0.2},{"s":"s20","x":170,"y":0.15},{"s":"s20","x":176,"y":0.1},{"s":"s20","x":182,"y":0.08},{"s":"s20","x":188,"y":0.05},{"s":"s20","x":194,"y":0.05},{"s":"s20","x":198,"y":0.02},{"s":"s20","x":200,"y":0.0},

      {"s":"s21","x":0,"y":0},{"s":"s21","x":2,"y":-0.05},{"s":"s21","x":5,"y":-0.1},{"s":"s21","x":9,"y":-0.08},{"s":"s21","x":13,"y":-0.12},{"s":"s21","x":17,"y":-0.15},{"s":"s21","x":21,"y":-0.12},{"s":"s21","x":25,"y":-0.18},{"s":"s21","x":29,"y":-0.15},{"s":"s21","x":33,"y":-0.2},{"s":"s21","x":37,"y":-0.22},{"s":"s21","x":41,"y":-0.25},{"s":"s21","x":45,"y":-0.2},{"s":"s21","x":49,"y":-0.3},{"s":"s21","x":53,"y":-0.25},{"s":"s21","x":57,"y":-0.2},{"s":"s21","x":61,"y":-0.22},{"s":"s21","x":65,"y":-0.15},{"s":"s21","x":69,"y":-0.2},{"s":"s21","x":73,"y":-0.18},{"s":"s21","x":77,"y":-0.15},{"s":"s21","x":81,"y":-0.2},{"s":"s21","x":85,"y":-0.18},{"s":"s21","x":89,"y":-0.15},{"s":"s21","x":92,"y":-0.12},{"s":"s21","x":94,"y":0.0},{"s":"s21","x":96,"y":0.5},{"s":"s21","x":98,"y":0.95},{"s":"s21","x":100,"y":0.6},{"s":"s21","x":102,"y":-0.2},{"s":"s21","x":104,"y":-0.45},{"s":"s21","x":106,"y":-0.3},{"s":"s21","x":110,"y":-0.2},{"s":"s21","x":116,"y":-0.22},{"s":"s21","x":122,"y":-0.25},{"s":"s21","x":128,"y":-0.2},{"s":"s21","x":134,"y":-0.25},{"s":"s21","x":140,"y":-0.3},{"s":"s21","x":144,"y":-0.25},{"s":"s21","x":148,"y":-0.35},{"s":"s21","x":151,"y":-0.3},{"s":"s21","x":154,"y":-0.47},{"s":"s21","x":157,"y":-0.3},{"s":"s21","x":161,"y":-0.35},{"s":"s21","x":165,"y":-0.3},{"s":"s21","x":169,"y":-0.35},{"s":"s21","x":173,"y":-0.28},{"s":"s21","x":177,"y":-0.32},{"s":"s21","x":181,"y":-0.25},{"s":"s21","x":185,"y":-0.3},{"s":"s21","x":189,"y":-0.22},{"s":"s21","x":193,"y":-0.25},{"s":"s21","x":196,"y":-0.2},{"s":"s21","x":198,"y":-0.15},{"s":"s21","x":200,"y":-0.08},

      {"s":"s22","x":0,"y":0},{"s":"s22","x":2,"y":-0.2},{"s":"s22","x":4,"y":-0.4},{"s":"s22","x":6,"y":-0.5},{"s":"s22","x":8,"y":-0.55},{"s":"s22","x":10,"y":-0.45},{"s":"s22","x":13,"y":-0.4},{"s":"s22","x":16,"y":-0.45},{"s":"s22","x":19,"y":-0.38},{"s":"s22","x":22,"y":-0.4},{"s":"s22","x":25,"y":-0.35},{"s":"s22","x":28,"y":-0.38},{"s":"s22","x":31,"y":-0.32},{"s":"s22","x":34,"y":-0.35},{"s":"s22","x":37,"y":-0.3},{"s":"s22","x":40,"y":-0.32},{"s":"s22","x":43,"y":-0.35},{"s":"s22","x":45,"y":-0.6},{"s":"s22","x":46.5,"y":-0.3},{"s":"s22","x":47.8,"y":-0.54},{"s":"s22","x":49.5,"y":-0.3},{"s":"s22","x":52,"y":-0.25},{"s":"s22","x":55,"y":-0.3},{"s":"s22","x":58,"y":-0.28},{"s":"s22","x":61,"y":-0.3},{"s":"s22","x":62.7,"y":-0.53},{"s":"s22","x":64.3,"y":-0.3},{"s":"s22","x":66,"y":-0.54},{"s":"s22","x":67.5,"y":-0.3},{"s":"s22","x":70,"y":-0.25},{"s":"s22","x":74,"y":-0.28},{"s":"s22","x":78,"y":-0.22},{"s":"s22","x":82,"y":-0.25},{"s":"s22","x":86,"y":-0.2},{"s":"s22","x":90,"y":-0.22},{"s":"s22","x":93,"y":-0.15},{"s":"s22","x":95,"y":0.2},{"s":"s22","x":97.5,"y":0.9},{"s":"s22","x":99.5,"y":0.8},{"s":"s22","x":101,"y":0.1},{"s":"s22","x":103,"y":-0.5},{"s":"s22","x":105,"y":-0.6},{"s":"s22","x":107,"y":-0.3},{"s":"s22","x":110,"y":-0.28},{"s":"s22","x":114,"y":-0.3},{"s":"s22","x":116,"y":-0.35},{"s":"s22","x":117.6,"y":-0.52},{"s":"s22","x":119,"y":-0.35},{"s":"s22","x":122,"y":-0.3},{"s":"s22","x":126,"y":-0.28},{"s":"s22","x":130,"y":-0.3},{"s":"s22","x":135,"y":-0.25},{"s":"s22","x":140,"y":-0.3},{"s":"s22","x":145,"y":-0.28},{"s":"s22","x":150,"y":-0.35},{"s":"s22","x":155,"y":-0.3},{"s":"s22","x":160,"y":-0.25},{"s":"s22","x":165,"y":-0.3},{"s":"s22","x":170,"y":-0.27},{"s":"s22","x":175,"y":-0.3},{"s":"s22","x":180,"y":-0.25},{"s":"s22","x":185,"y":-0.28},{"s":"s22","x":190,"y":-0.22},{"s":"s22","x":194,"y":-0.25},{"s":"s22","x":198,"y":-0.15},{"s":"s22","x":200,"y":-0.08},

      {"s":"s23","x":0,"y":0},{"s":"s23","x":2,"y":0.05},{"s":"s23","x":5,"y":0.1},{"s":"s23","x":9,"y":0.15},{"s":"s23","x":13,"y":0.2},{"s":"s23","x":17,"y":0.18},{"s":"s23","x":21,"y":0.22},{"s":"s23","x":25,"y":0.2},{"s":"s23","x":29,"y":0.18},{"s":"s23","x":33,"y":0.15},{"s":"s23","x":37,"y":0.12},{"s":"s23","x":41,"y":0.13},{"s":"s23","x":45,"y":0.1},{"s":"s23","x":49,"y":0.15},{"s":"s23","x":53,"y":0.2},{"s":"s23","x":57,"y":0.25},{"s":"s23","x":61,"y":0.28},{"s":"s23","x":65,"y":0.25},{"s":"s23","x":69,"y":0.2},{"s":"s23","x":73,"y":0.15},{"s":"s23","x":77,"y":0.12},{"s":"s23","x":81,"y":0.1},{"s":"s23","x":85,"y":0.08},{"s":"s23","x":89,"y":0.06},{"s":"s23","x":92,"y":0.08},{"s":"s23","x":94,"y":0.3},{"s":"s23","x":96,"y":0.8},{"s":"s23","x":98,"y":1.2},{"s":"s23","x":100,"y":1.25},{"s":"s23","x":102,"y":0.5},{"s":"s23","x":103.5,"y":-0.1},{"s":"s23","x":105,"y":-0.15},{"s":"s23","x":108,"y":0.05},{"s":"s23","x":112,"y":0.1},{"s":"s23","x":116,"y":0.08},{"s":"s23","x":122,"y":0.1},{"s":"s23","x":128,"y":0.12},{"s":"s23","x":134,"y":0.15},{"s":"s23","x":140,"y":0.25},{"s":"s23","x":146,"y":0.32},{"s":"s23","x":152,"y":0.35},{"s":"s23","x":158,"y":0.3},{"s":"s23","x":164,"y":0.2},{"s":"s23","x":170,"y":0.15},{"s":"s23","x":176,"y":0.12},{"s":"s23","x":182,"y":0.1},{"s":"s23","x":188,"y":0.08},{"s":"s23","x":194,"y":0.06},{"s":"s23","x":198,"y":0.03},{"s":"s23","x":200,"y":0.0},

      {"s":"s24","x":0,"y":0},{"s":"s24","x":2,"y":-0.15},{"s":"s24","x":4,"y":-0.25},{"s":"s24","x":7,"y":-0.3},{"s":"s24","x":10,"y":-0.25},{"s":"s24","x":13,"y":-0.3},{"s":"s24","x":16,"y":-0.28},{"s":"s24","x":19,"y":-0.22},{"s":"s24","x":22,"y":-0.25},{"s":"s24","x":25,"y":-0.2},{"s":"s24","x":28,"y":-0.22},{"s":"s24","x":31,"y":-0.18},{"s":"s24","x":35,"y":-0.2},{"s":"s24","x":39,"y":-0.15},{"s":"s24","x":43,"y":-0.18},{"s":"s24","x":47,"y":-0.12},{"s":"s24","x":51,"y":-0.15},{"s":"s24","x":55,"y":-0.1},{"s":"s24","x":59,"y":-0.12},{"s":"s24","x":63,"y":-0.08},{"s":"s24","x":67,"y":-0.1},{"s":"s24","x":71,"y":-0.12},{"s":"s24","x":75,"y":-0.08},{"s":"s24","x":79,"y":-0.1},{"s":"s24","x":83,"y":-0.12},{"s":"s24","x":87,"y":-0.1},{"s":"s24","x":91,"y":-0.08},{"s":"s24","x":94,"y":0.1},{"s":"s24","x":96,"y":0.6},{"s":"s24","x":98,"y":1.0},{"s":"s24","x":100,"y":0.7},{"s":"s24","x":102,"y":-0.1},{"s":"s24","x":104,"y":-0.35},{"s":"s24","x":106,"y":-0.2},{"s":"s24","x":110,"y":-0.15},{"s":"s24","x":116,"y":-0.12},{"s":"s24","x":122,"y":-0.15},{"s":"s24","x":128,"y":-0.12},{"s":"s24","x":134,"y":-0.15},{"s":"s24","x":140,"y":-0.1},{"s":"s24","x":146,"y":-0.05},{"s":"s24","x":152,"y":-0.08},{"s":"s24","x":158,"y":-0.12},{"s":"s24","x":164,"y":-0.15},{"s":"s24","x":170,"y":-0.18},{"s":"s24","x":176,"y":-0.2},{"s":"s24","x":180,"y":-0.15},{"s":"s24","x":184,"y":-0.2},{"s":"s24","x":187,"y":-0.25},{"s":"s24","x":189.7,"y":-0.29},{"s":"s24","x":192,"y":-0.2},{"s":"s24","x":195,"y":-0.18},{"s":"s24","x":198,"y":-0.12},{"s":"s24","x":200,"y":-0.05},

      {"s":"s25","x":0,"y":0},{"s":"s25","x":2,"y":0.1},{"s":"s25","x":5,"y":0.2},{"s":"s25","x":8,"y":0.3},{"s":"s25","x":11,"y":0.45},{"s":"s25","x":14,"y":0.6},{"s":"s25","x":17.3,"y":0.71},{"s":"s25","x":20,"y":0.55},{"s":"s25","x":22,"y":0.4},{"s":"s25","x":25,"y":0.3},{"s":"s25","x":28,"y":0.25},{"s":"s25","x":31,"y":0.2},{"s":"s25","x":35,"y":0.15},{"s":"s25","x":40,"y":0.1},{"s":"s25","x":45,"y":0.12},{"s":"s25","x":50,"y":0.08},{"s":"s25","x":55,"y":0.1},{"s":"s25","x":60,"y":0.05},{"s":"s25","x":65,"y":0.08},{"s":"s25","x":70,"y":0.05},{"s":"s25","x":75,"y":0.03},{"s":"s25","x":80,"y":0.05},{"s":"s25","x":85,"y":0.02},{"s":"s25","x":89,"y":0.0},{"s":"s25","x":92,"y":0.05},{"s":"s25","x":94,"y":0.2},{"s":"s25","x":96,"y":0.6},{"s":"s25","x":98,"y":0.95},{"s":"s25","x":100,"y":0.8},{"s":"s25","x":102,"y":0.1},{"s":"s25","x":104,"y":-0.25},{"s":"s25","x":106,"y":-0.1},{"s":"s25","x":110,"y":0.05},{"s":"s25","x":116,"y":0.08},{"s":"s25","x":122,"y":0.1},{"s":"s25","x":128,"y":0.15},{"s":"s25","x":134,"y":0.25},{"s":"s25","x":140,"y":0.35},{"s":"s25","x":146,"y":0.45},{"s":"s25","x":152,"y":0.5},{"s":"s25","x":157,"y":0.55},{"s":"s25","x":162,"y":0.58},{"s":"s25","x":166,"y":0.45},{"s":"s25","x":170,"y":0.35},{"s":"s25","x":176,"y":0.3},{"s":"s25","x":182,"y":0.2},{"s":"s25","x":188,"y":0.15},{"s":"s25","x":194,"y":0.1},{"s":"s25","x":198,"y":0.05},{"s":"s25","x":200,"y":0.0},

      {"s":"s26","x":0,"y":0},{"s":"s26","x":2,"y":-0.2},{"s":"s26","x":4,"y":-0.45},{"s":"s26","x":6,"y":-0.5},{"s":"s26","x":8,"y":-0.42},{"s":"s26","x":10,"y":-0.48},{"s":"s26","x":12,"y":-0.4},{"s":"s26","x":15,"y":-0.44},{"s":"s26","x":18,"y":-0.36},{"s":"s26","x":21,"y":-0.4},{"s":"s26","x":24,"y":-0.32},{"s":"s26","x":27,"y":-0.36},{"s":"s26","x":30,"y":-0.3},{"s":"s26","x":33,"y":-0.33},{"s":"s26","x":36,"y":-0.27},{"s":"s26","x":39,"y":-0.3},{"s":"s26","x":42,"y":-0.25},{"s":"s26","x":45,"y":-0.28},{"s":"s26","x":48,"y":-0.22},{"s":"s26","x":51,"y":-0.26},{"s":"s26","x":54,"y":-0.2},{"s":"s26","x":57,"y":-0.24},{"s":"s26","x":60,"y":-0.2},{"s":"s26","x":63,"y":-0.23},{"s":"s26","x":66,"y":-0.18},{"s":"s26","x":69,"y":-0.22},{"s":"s26","x":72,"y":-0.17},{"s":"s26","x":75,"y":-0.2},{"s":"s26","x":78,"y":-0.16},{"s":"s26","x":81,"y":-0.2},{"s":"s26","x":84,"y":-0.15},{"s":"s26","x":87,"y":-0.19},{"s":"s26","x":90,"y":-0.15},{"s":"s26","x":93,"y":-0.1},{"s":"s26","x":95,"y":0.3},{"s":"s26","x":97,"y":0.75},{"s":"s26","x":99,"y":0.6},{"s":"s26","x":101,"y":-0.1},{"s":"s26","x":103,"y":-0.45},{"s":"s26","x":105,"y":-0.3},{"s":"s26","x":108,"y":-0.25},{"s":"s26","x":111,"y":-0.28},{"s":"s26","x":114,"y":-0.22},{"s":"s26","x":117,"y":-0.26},{"s":"s26","x":120,"y":-0.2},{"s":"s26","x":123,"y":-0.24},{"s":"s26","x":126,"y":-0.18},{"s":"s26","x":129,"y":-0.22},{"s":"s26","x":132,"y":-0.15},{"s":"s26","x":135,"y":-0.2},{"s":"s26","x":138,"y":-0.1},{"s":"s26","x":141,"y":-0.15},{"s":"s26","x":144,"y":-0.05},{"s":"s26","x":147,"y":-0.1},{"s":"s26","x":150,"y":0.0},{"s":"s26","x":153,"y":-0.05},{"s":"s26","x":156,"y":-0.02},{"s":"s26","x":159,"y":-0.08},{"s":"s26","x":162,"y":-0.05},{"s":"s26","x":165,"y":-0.12},{"s":"s26","x":168,"y":-0.1},{"s":"s26","x":171,"y":-0.15},{"s":"s26","x":174,"y":-0.12},{"s":"s26","x":177,"y":-0.18},{"s":"s26","x":180,"y":-0.15},{"s":"s26","x":183,"y":-0.2},{"s":"s26","x":186,"y":-0.16},{"s":"s26","x":189,"y":-0.2},{"s":"s26","x":192,"y":-0.15},{"s":"s26","x":195,"y":-0.18},{"s":"s26","x":198,"y":-0.1},{"s":"s26","x":200,"y":-0.05},

      {"s":"s27","x":0,"y":0},{"s":"s27","x":2,"y":-0.15},{"s":"s27","x":4,"y":-0.3},{"s":"s27","x":6,"y":-0.45},{"s":"s27","x":8,"y":-0.35},{"s":"s27","x":10,"y":-0.5},{"s":"s27","x":12,"y":-0.4},{"s":"s27","x":14,"y":-0.55},{"s":"s27","x":16,"y":-0.42},{"s":"s27","x":19,"y":-0.48},{"s":"s27","x":22,"y":-0.38},{"s":"s27","x":25,"y":-0.45},{"s":"s27","x":28,"y":-0.35},{"s":"s27","x":31,"y":-0.63},{"s":"s27","x":33,"y":-0.4},{"s":"s27","x":36,"y":-0.35},{"s":"s27","x":39,"y":-0.3},{"s":"s27","x":42,"y":-0.36},{"s":"s27","x":45,"y":-0.28},{"s":"s27","x":48,"y":-0.33},{"s":"s27","x":51,"y":-0.27},{"s":"s27","x":54,"y":-0.32},{"s":"s27","x":57,"y":-0.25},{"s":"s27","x":60,"y":-0.3},{"s":"s27","x":63,"y":-0.24},{"s":"s27","x":66,"y":-0.28},{"s":"s27","x":69,"y":-0.22},{"s":"s27","x":72,"y":-0.26},{"s":"s27","x":75,"y":-0.2},{"s":"s27","x":78,"y":-0.25},{"s":"s27","x":81,"y":-0.2},{"s":"s27","x":84,"y":-0.23},{"s":"s27","x":87,"y":-0.18},{"s":"s27","x":90,"y":-0.22},{"s":"s27","x":93,"y":-0.15},{"s":"s27","x":95,"y":0.1},{"s":"s27","x":97,"y":0.5},{"s":"s27","x":99,"y":0.4},{"s":"s27","x":101,"y":-0.2},{"s":"s27","x":103,"y":-0.55},{"s":"s27","x":105,"y":-0.4},{"s":"s27","x":108,"y":-0.3},{"s":"s27","x":111,"y":-0.33},{"s":"s27","x":114,"y":-0.26},{"s":"s27","x":117,"y":-0.3},{"s":"s27","x":120,"y":-0.25},{"s":"s27","x":123,"y":-0.3},{"s":"s27","x":126,"y":-0.24},{"s":"s27","x":129,"y":-0.3},{"s":"s27","x":132,"y":-0.25},{"s":"s27","x":135,"y":-0.32},{"s":"s27","x":138,"y":-0.28},{"s":"s27","x":141,"y":-0.35},{"s":"s27","x":144,"y":-0.3},{"s":"s27","x":147,"y":-0.38},{"s":"s27","x":150,"y":-0.32},{"s":"s27","x":153,"y":-0.4},{"s":"s27","x":156,"y":-0.33},{"s":"s27","x":159,"y":-0.38},{"s":"s27","x":162,"y":-0.3},{"s":"s27","x":165,"y":-0.36},{"s":"s27","x":168,"y":-0.3},{"s":"s27","x":171,"y":-0.35},{"s":"s27","x":174,"y":-0.28},{"s":"s27","x":177,"y":-0.33},{"s":"s27","x":180,"y":-0.27},{"s":"s27","x":183,"y":-0.3},{"s":"s27","x":186,"y":-0.25},{"s":"s27","x":189,"y":-0.28},{"s":"s27","x":192,"y":-0.22},{"s":"s27","x":195,"y":-0.25},{"s":"s27","x":198,"y":-0.15},{"s":"s27","x":200,"y":-0.08},

      {"s":"s28","x":0,"y":0},{"s":"s28","x":2,"y":0.05},{"s":"s28","x":4,"y":0.1},{"s":"s28","x":6,"y":0.05},{"s":"s28","x":8,"y":0.12},{"s":"s28","x":10,"y":0.06},{"s":"s28","x":12,"y":0.1},{"s":"s28","x":15,"y":0.04},{"s":"s28","x":18,"y":0.08},{"s":"s28","x":21,"y":0.02},{"s":"s28","x":24,"y":0.06},{"s":"s28","x":27,"y":0.0},{"s":"s28","x":30,"y":0.04},{"s":"s28","x":33,"y":-0.02},{"s":"s28","x":36,"y":0.02},{"s":"s28","x":39,"y":-0.03},{"s":"s28","x":42,"y":0.01},{"s":"s28","x":45,"y":-0.04},{"s":"s28","x":48,"y":0.0},{"s":"s28","x":51,"y":-0.05},{"s":"s28","x":54,"y":-0.01},{"s":"s28","x":57,"y":-0.05},{"s":"s28","x":60,"y":0.0},{"s":"s28","x":63,"y":-0.04},{"s":"s28","x":66,"y":0.02},{"s":"s28","x":69,"y":-0.03},{"s":"s28","x":72,"y":0.03},{"s":"s28","x":75,"y":0.0},{"s":"s28","x":78,"y":0.05},{"s":"s28","x":81,"y":0.1},{"s":"s28","x":84,"y":0.2},{"s":"s28","x":86,"y":0.24},{"s":"s28","x":88,"y":0.18},{"s":"s28","x":90,"y":0.22},{"s":"s28","x":92,"y":0.15},{"s":"s28","x":94,"y":0.3},{"s":"s28","x":96,"y":0.7},{"s":"s28","x":98,"y":0.95},{"s":"s28","x":100,"y":0.6},{"s":"s28","x":102,"y":-0.1},{"s":"s28","x":104,"y":-0.3},{"s":"s28","x":106,"y":-0.1},{"s":"s28","x":109,"y":-0.05},{"s":"s28","x":112,"y":-0.08},{"s":"s28","x":115,"y":-0.03},{"s":"s28","x":118,"y":-0.06},{"s":"s28","x":121,"y":-0.02},{"s":"s28","x":124,"y":-0.05},{"s":"s28","x":127,"y":0.0},{"s":"s28","x":130,"y":-0.03},{"s":"s28","x":133,"y":0.02},{"s":"s28","x":136,"y":-0.02},{"s":"s28","x":139,"y":0.03},{"s":"s28","x":142,"y":-0.02},{"s":"s28","x":145,"y":0.02},{"s":"s28","x":148,"y":-0.03},{"s":"s28","x":151,"y":0.0},{"s":"s28","x":154,"y":-0.04},{"s":"s28","x":157,"y":-0.01},{"s":"s28","x":160,"y":-0.05},{"s":"s28","x":163,"y":-0.02},{"s":"s28","x":166,"y":-0.06},{"s":"s28","x":169,"y":-0.03},{"s":"s28","x":172,"y":-0.07},{"s":"s28","x":175,"y":-0.04},{"s":"s28","x":178,"y":-0.08},{"s":"s28","x":181,"y":-0.05},{"s":"s28","x":184,"y":-0.08},{"s":"s28","x":187,"y":-0.05},{"s":"s28","x":190,"y":-0.07},{"s":"s28","x":193,"y":-0.04},{"s":"s28","x":196,"y":-0.06},{"s":"s28","x":198,"y":-0.03},{"s":"s28","x":200,"y":0.0},

      {"s":"s29","x":0,"y":0},{"s":"s29","x":2,"y":-0.2},{"s":"s29","x":4,"y":-0.35},{"s":"s29","x":6,"y":-0.3},{"s":"s29","x":8,"y":-0.4},{"s":"s29","x":10,"y":-0.32},{"s":"s29","x":12,"y":-0.45},{"s":"s29","x":14,"y":-0.35},{"s":"s29","x":17,"y":-0.42},{"s":"s29","x":20,"y":-0.33},{"s":"s29","x":23,"y":-0.4},{"s":"s29","x":26,"y":-0.3},{"s":"s29","x":29,"y":-0.38},{"s":"s29","x":32,"y":-0.3},{"s":"s29","x":35,"y":-0.36},{"s":"s29","x":38,"y":-0.28},{"s":"s29","x":41,"y":-0.35},{"s":"s29","x":44,"y":-0.27},{"s":"s29","x":47,"y":-0.4},{"s":"s29","x":50,"y":-0.3},{"s":"s29","x":53,"y":-0.35},{"s":"s29","x":56,"y":-0.28},{"s":"s29","x":59,"y":-0.33},{"s":"s29","x":62,"y":-0.27},{"s":"s29","x":65,"y":-0.35},{"s":"s29","x":68,"y":-0.28},{"s":"s29","x":71,"y":-0.3},{"s":"s29","x":74,"y":-0.25},{"s":"s29","x":77,"y":-0.3},{"s":"s29","x":80,"y":-0.24},{"s":"s29","x":83,"y":-0.3},{"s":"s29","x":86,"y":-0.25},{"s":"s29","x":89,"y":-0.28},{"s":"s29","x":92,"y":-0.22},{"s":"s29","x":94,"y":-0.1},{"s":"s29","x":96,"y":0.3},{"s":"s29","x":98,"y":0.6},{"s":"s29","x":100,"y":0.3},{"s":"s29","x":102,"y":-0.3},{"s":"s29","x":104,"y":-0.55},{"s":"s29","x":106,"y":-0.35},{"s":"s29","x":109,"y":-0.3},{"s":"s29","x":112,"y":-0.35},{"s":"s29","x":115,"y":-0.28},{"s":"s29","x":118,"y":-0.33},{"s":"s29","x":121,"y":-0.3},{"s":"s29","x":124,"y":-0.38},{"s":"s29","x":127,"y":-0.3},{"s":"s29","x":130,"y":-0.35},{"s":"s29","x":133,"y":-0.28},{"s":"s29","x":136,"y":-0.4},{"s":"s29","x":139,"y":-0.33},{"s":"s29","x":142,"y":-0.45},{"s":"s29","x":145,"y":-0.35},{"s":"s29","x":148,"y":-0.5},{"s":"s29","x":151,"y":-0.38},{"s":"s29","x":154,"y":-0.42},{"s":"s29","x":157,"y":-0.35},{"s":"s29","x":160,"y":-0.4},{"s":"s29","x":163,"y":-0.33},{"s":"s29","x":166,"y":-0.38},{"s":"s29","x":169,"y":-0.3},{"s":"s29","x":172,"y":-0.36},{"s":"s29","x":175,"y":-0.3},{"s":"s29","x":178,"y":-0.33},{"s":"s29","x":181,"y":-0.28},{"s":"s29","x":184,"y":-0.32},{"s":"s29","x":187,"y":-0.26},{"s":"s29","x":190,"y":-0.3},{"s":"s29","x":193,"y":-0.25},{"s":"s29","x":196,"y":-0.22},{"s":"s29","x":198,"y":-0.15},{"s":"s29","x":200,"y":-0.08},

      {"s":"s30","x":0,"y":0},{"s":"s30","x":2,"y":0.08},{"s":"s30","x":4,"y":0.15},{"s":"s30","x":6,"y":0.3},{"s":"s30","x":8,"y":0.25},{"s":"s30","x":10,"y":0.35},{"s":"s30","x":12,"y":0.28},{"s":"s30","x":14,"y":0.32},{"s":"s30","x":17,"y":0.22},{"s":"s30","x":20,"y":0.28},{"s":"s30","x":23,"y":0.18},{"s":"s30","x":26,"y":0.22},{"s":"s30","x":29,"y":0.15},{"s":"s30","x":32,"y":0.2},{"s":"s30","x":35,"y":0.12},{"s":"s30","x":38,"y":0.18},{"s":"s30","x":41,"y":0.28},{"s":"s30","x":44,"y":0.22},{"s":"s30","x":47,"y":0.12},{"s":"s30","x":50,"y":0.16},{"s":"s30","x":53,"y":0.1},{"s":"s30","x":56,"y":0.14},{"s":"s30","x":59,"y":0.08},{"s":"s30","x":62,"y":0.12},{"s":"s30","x":65,"y":0.06},{"s":"s30","x":68,"y":0.1},{"s":"s30","x":71,"y":0.05},{"s":"s30","x":74,"y":0.09},{"s":"s30","x":77,"y":0.04},{"s":"s30","x":80,"y":0.08},{"s":"s30","x":83,"y":0.03},{"s":"s30","x":86,"y":0.06},{"s":"s30","x":89,"y":0.02},{"s":"s30","x":92,"y":0.05},{"s":"s30","x":94,"y":0.2},{"s":"s30","x":96,"y":0.65},{"s":"s30","x":98,"y":1.0},{"s":"s30","x":100,"y":0.85},{"s":"s30","x":102,"y":0.2},{"s":"s30","x":104,"y":-0.15},{"s":"s30","x":106,"y":0.05},{"s":"s30","x":109,"y":0.1},{"s":"s30","x":112,"y":0.15},{"s":"s30","x":115,"y":0.12},{"s":"s30","x":118,"y":0.18},{"s":"s30","x":121,"y":0.15},{"s":"s30","x":124,"y":0.2},{"s":"s30","x":127,"y":0.25},{"s":"s30","x":130,"y":0.22},{"s":"s30","x":133,"y":0.3},{"s":"s30","x":136,"y":0.28},{"s":"s30","x":139,"y":0.35},{"s":"s30","x":142,"y":0.3},{"s":"s30","x":145,"y":0.4},{"s":"s30","x":148,"y":0.35},{"s":"s30","x":151,"y":0.42},{"s":"s30","x":154,"y":0.38},{"s":"s30","x":157,"y":0.45},{"s":"s30","x":160,"y":0.4},{"s":"s30","x":163,"y":0.35},{"s":"s30","x":166,"y":0.38},{"s":"s30","x":169,"y":0.3},{"s":"s30","x":172,"y":0.35},{"s":"s30","x":175,"y":0.28},{"s":"s30","x":178,"y":0.3},{"s":"s30","x":181,"y":0.25},{"s":"s30","x":184,"y":0.28},{"s":"s30","x":187,"y":0.22},{"s":"s30","x":190,"y":0.25},{"s":"s30","x":193,"y":0.18},{"s":"s30","x":196,"y":0.15},{"s":"s30","x":198,"y":0.1},{"s":"s30","x":200,"y":0.05},

      {"s":"s31","x":0,"y":0},{"s":"s31","x":1.5,"y":-0.3},{"s":"s31","x":3,"y":-0.6},{"s":"s31","x":5,"y":-0.45},{"s":"s31","x":7,"y":-0.5},{"s":"s31","x":9,"y":-0.38},{"s":"s31","x":11,"y":-0.42},{"s":"s31","x":14,"y":-0.3},{"s":"s31","x":17,"y":-0.35},{"s":"s31","x":20,"y":-0.25},{"s":"s31","x":23,"y":-0.3},{"s":"s31","x":26,"y":-0.2},{"s":"s31","x":29,"y":-0.25},{"s":"s31","x":32,"y":-0.18},{"s":"s31","x":35,"y":-0.22},{"s":"s31","x":38,"y":-0.15},{"s":"s31","x":41,"y":-0.2},{"s":"s31","x":44,"y":-0.12},{"s":"s31","x":47,"y":-0.17},{"s":"s31","x":50,"y":-0.1},{"s":"s31","x":53,"y":-0.15},{"s":"s31","x":56,"y":-0.08},{"s":"s31","x":59,"y":-0.13},{"s":"s31","x":62,"y":-0.07},{"s":"s31","x":65,"y":-0.12},{"s":"s31","x":68,"y":-0.06},{"s":"s31","x":71,"y":-0.1},{"s":"s31","x":74,"y":-0.05},{"s":"s31","x":77,"y":-0.09},{"s":"s31","x":80,"y":-0.05},{"s":"s31","x":83,"y":-0.08},{"s":"s31","x":86,"y":-0.04},{"s":"s31","x":89,"y":-0.07},{"s":"s31","x":92,"y":-0.05},{"s":"s31","x":94,"y":0.15},{"s":"s31","x":96,"y":0.55},{"s":"s31","x":98,"y":0.9},{"s":"s31","x":100,"y":0.7},{"s":"s31","x":102,"y":-0.05},{"s":"s31","x":104,"y":-0.4},{"s":"s31","x":106,"y":-0.15},{"s":"s31","x":109,"y":-0.08},{"s":"s31","x":112,"y":-0.1},{"s":"s31","x":115,"y":-0.05},{"s":"s31","x":118,"y":-0.07},{"s":"s31","x":121,"y":-0.02},{"s":"s31","x":124,"y":-0.04},{"s":"s31","x":127,"y":0.0},{"s":"s31","x":130,"y":0.03},{"s":"s31","x":133,"y":0.06},{"s":"s31","x":136,"y":0.1},{"s":"s31","x":139,"y":0.14},{"s":"s31","x":142,"y":0.18},{"s":"s31","x":145,"y":0.22},{"s":"s31","x":148,"y":0.24},{"s":"s31","x":151,"y":0.25},{"s":"s31","x":154,"y":0.22},{"s":"s31","x":157,"y":0.18},{"s":"s31","x":160,"y":0.12},{"s":"s31","x":163,"y":0.08},{"s":"s31","x":166,"y":0.05},{"s":"s31","x":169,"y":0.03},{"s":"s31","x":172,"y":0.02},{"s":"s31","x":175,"y":0.0},{"s":"s31","x":178,"y":0.02},{"s":"s31","x":181,"y":0.0},{"s":"s31","x":184,"y":0.02},{"s":"s31","x":187,"y":-0.01},{"s":"s31","x":190,"y":0.01},{"s":"s31","x":193,"y":-0.02},{"s":"s31","x":196,"y":0.0},{"s":"s31","x":198,"y":0.0},{"s":"s31","x":200,"y":0.0},

      {"s":"s32","x":0,"y":0},{"s":"s32","x":2,"y":0.05},{"s":"s32","x":4,"y":0.12},{"s":"s32","x":6,"y":0.08},{"s":"s32","x":8,"y":0.15},{"s":"s32","x":11,"y":0.1},{"s":"s32","x":14,"y":0.18},{"s":"s32","x":17,"y":0.12},{"s":"s32","x":20,"y":0.2},{"s":"s32","x":23,"y":0.15},{"s":"s32","x":26,"y":0.1},{"s":"s32","x":29,"y":0.14},{"s":"s32","x":32,"y":0.08},{"s":"s32","x":35,"y":0.12},{"s":"s32","x":38,"y":0.06},{"s":"s32","x":41,"y":0.1},{"s":"s32","x":44,"y":0.05},{"s":"s32","x":47,"y":0.09},{"s":"s32","x":50,"y":0.04},{"s":"s32","x":53,"y":0.08},{"s":"s32","x":56,"y":0.03},{"s":"s32","x":59,"y":0.07},{"s":"s32","x":62,"y":0.02},{"s":"s32","x":65,"y":0.06},{"s":"s32","x":68,"y":0.01},{"s":"s32","x":71,"y":0.05},{"s":"s32","x":74,"y":0.0},{"s":"s32","x":77,"y":0.04},{"s":"s32","x":80,"y":0.0},{"s":"s32","x":83,"y":0.03},{"s":"s32","x":86,"y":-0.01},{"s":"s32","x":89,"y":0.02},{"s":"s32","x":92,"y":0.0},{"s":"s32","x":94,"y":0.15},{"s":"s32","x":96,"y":0.5},{"s":"s32","x":98,"y":0.8},{"s":"s32","x":100,"y":0.5},{"s":"s32","x":102,"y":-0.15},{"s":"s32","x":104,"y":-0.3},{"s":"s32","x":106,"y":-0.1},{"s":"s32","x":109,"y":0.0},{"s":"s32","x":112,"y":0.05},{"s":"s32","x":116,"y":0.1},{"s":"s32","x":120,"y":0.15},{"s":"s32","x":124,"y":0.2},{"s":"s32","x":128,"y":0.25},{"s":"s32","x":132,"y":0.3},{"s":"s32","x":135,"y":0.45},{"s":"s32","x":137,"y":0.7},{"s":"s32","x":139,"y":0.4},{"s":"s32","x":142,"y":0.35},{"s":"s32","x":145,"y":0.6},{"s":"s32","x":147,"y":0.85},{"s":"s32","x":149,"y":0.4},{"s":"s32","x":152,"y":0.35},{"s":"s32","x":155,"y":0.5},{"s":"s32","x":157,"y":0.75},{"s":"s32","x":159,"y":0.35},{"s":"s32","x":162,"y":0.3},{"s":"s32","x":165,"y":0.5},{"s":"s32","x":167,"y":0.8},{"s":"s32","x":169,"y":0.35},{"s":"s32","x":172,"y":0.3},{"s":"s32","x":175,"y":0.45},{"s":"s32","x":177,"y":0.7},{"s":"s32","x":179,"y":0.3},{"s":"s32","x":182,"y":0.25},{"s":"s32","x":185,"y":0.4},{"s":"s32","x":187,"y":0.65},{"s":"s32","x":189,"y":0.3},{"s":"s32","x":192,"y":0.2},{"s":"s32","x":195,"y":0.15},{"s":"s32","x":198,"y":0.1},{"s":"s32","x":200,"y":0.05},

      {"s":"s33","x":0,"y":0},{"s":"s33","x":2,"y":-0.05},{"s":"s33","x":4,"y":-0.12},{"s":"s33","x":6,"y":-0.08},{"s":"s33","x":8,"y":-0.15},{"s":"s33","x":10,"y":-0.1},{"s":"s33","x":13,"y":-0.16},{"s":"s33","x":16,"y":-0.1},{"s":"s33","x":19,"y":-0.14},{"s":"s33","x":22,"y":-0.08},{"s":"s33","x":25,"y":-0.12},{"s":"s33","x":28,"y":-0.06},{"s":"s33","x":31,"y":-0.1},{"s":"s33","x":34,"y":-0.05},{"s":"s33","x":37,"y":-0.09},{"s":"s33","x":40,"y":-0.04},{"s":"s33","x":43,"y":-0.08},{"s":"s33","x":46,"y":-0.03},{"s":"s33","x":49,"y":-0.07},{"s":"s33","x":52,"y":-0.02},{"s":"s33","x":55,"y":-0.06},{"s":"s33","x":58,"y":-0.01},{"s":"s33","x":61,"y":-0.05},{"s":"s33","x":64,"y":0.0},{"s":"s33","x":67,"y":-0.04},{"s":"s33","x":70,"y":0.01},{"s":"s33","x":73,"y":-0.03},{"s":"s33","x":76,"y":0.02},{"s":"s33","x":79,"y":-0.02},{"s":"s33","x":82,"y":0.02},{"s":"s33","x":85,"y":-0.02},{"s":"s33","x":88,"y":0.01},{"s":"s33","x":91,"y":-0.02},{"s":"s33","x":93,"y":0.05},{"s":"s33","x":95,"y":0.4},{"s":"s33","x":97,"y":0.85},{"s":"s33","x":99,"y":0.9},{"s":"s33","x":101,"y":0.2},{"s":"s33","x":103,"y":-0.3},{"s":"s33","x":105,"y":-0.2},{"s":"s33","x":108,"y":-0.05},{"s":"s33","x":111,"y":0.0},{"s":"s33","x":114,"y":-0.03},{"s":"s33","x":117,"y":0.02},{"s":"s33","x":120,"y":0.0},{"s":"s33","x":123,"y":0.05},{"s":"s33","x":126,"y":0.02},{"s":"s33","x":129,"y":0.07},{"s":"s33","x":132,"y":0.05},{"s":"s33","x":135,"y":0.1},{"s":"s33","x":138,"y":0.08},{"s":"s33","x":141,"y":0.13},{"s":"s33","x":144,"y":0.1},{"s":"s33","x":147,"y":0.15},{"s":"s33","x":150,"y":0.12},{"s":"s33","x":153,"y":0.1},{"s":"s33","x":156,"y":0.12},{"s":"s33","x":159,"y":0.08},{"s":"s33","x":162,"y":0.1},{"s":"s33","x":165,"y":0.05},{"s":"s33","x":168,"y":0.07},{"s":"s33","x":171,"y":0.03},{"s":"s33","x":174,"y":0.05},{"s":"s33","x":177,"y":0.02},{"s":"s33","x":180,"y":0.04},{"s":"s33","x":183,"y":0.0},{"s":"s33","x":186,"y":0.03},{"s":"s33","x":189,"y":-0.01},{"s":"s33","x":192,"y":0.02},{"s":"s33","x":195,"y":0.0},{"s":"s33","x":198,"y":0.0},{"s":"s33","x":200,"y":0.0},

      {"s":"s34","x":0,"y":0},{"s":"s34","x":2,"y":0.05},{"s":"s34","x":4,"y":0.2},{"s":"s34","x":6,"y":0.35},{"s":"s34","x":8,"y":0.3},{"s":"s34","x":10,"y":0.4},{"s":"s34","x":12,"y":0.3},{"s":"s34","x":14,"y":0.35},{"s":"s34","x":17,"y":0.25},{"s":"s34","x":20,"y":0.3},{"s":"s34","x":23,"y":0.2},{"s":"s34","x":26,"y":0.25},{"s":"s34","x":29,"y":0.18},{"s":"s34","x":32,"y":0.22},{"s":"s34","x":35,"y":0.15},{"s":"s34","x":38,"y":0.2},{"s":"s34","x":41,"y":0.12},{"s":"s34","x":44,"y":0.17},{"s":"s34","x":47,"y":0.1},{"s":"s34","x":50,"y":0.14},{"s":"s34","x":53,"y":0.08},{"s":"s34","x":56,"y":0.12},{"s":"s34","x":59,"y":0.06},{"s":"s34","x":62,"y":0.1},{"s":"s34","x":65,"y":0.05},{"s":"s34","x":68,"y":0.08},{"s":"s34","x":71,"y":0.03},{"s":"s34","x":74,"y":0.06},{"s":"s34","x":77,"y":0.02},{"s":"s34","x":80,"y":0.05},{"s":"s34","x":83,"y":0.0},{"s":"s34","x":86,"y":0.04},{"s":"s34","x":89,"y":0.0},{"s":"s34","x":92,"y":0.02},{"s":"s34","x":94,"y":0.25},{"s":"s34","x":96,"y":0.8},{"s":"s34","x":98,"y":1.15},{"s":"s34","x":100,"y":0.9},{"s":"s34","x":102,"y":0.1},{"s":"s34","x":104,"y":-0.25},{"s":"s34","x":106,"y":-0.05},{"s":"s34","x":109,"y":0.05},{"s":"s34","x":112,"y":0.1},{"s":"s34","x":115,"y":0.08},{"s":"s34","x":118,"y":0.14},{"s":"s34","x":121,"y":0.1},{"s":"s34","x":124,"y":0.18},{"s":"s34","x":127,"y":0.15},{"s":"s34","x":130,"y":0.22},{"s":"s34","x":133,"y":0.2},{"s":"s34","x":136,"y":0.3},{"s":"s34","x":139,"y":0.4},{"s":"s34","x":141,"y":0.75},{"s":"s34","x":143,"y":0.35},{"s":"s34","x":146,"y":0.3},{"s":"s34","x":148,"y":0.55},{"s":"s34","x":150,"y":0.3},{"s":"s34","x":153,"y":0.35},{"s":"s34","x":155,"y":0.7},{"s":"s34","x":157,"y":0.3},{"s":"s34","x":160,"y":0.35},{"s":"s34","x":162,"y":0.8},{"s":"s34","x":164,"y":0.35},{"s":"s34","x":167,"y":0.3},{"s":"s34","x":169,"y":0.6},{"s":"s34","x":171,"y":0.25},{"s":"s34","x":174,"y":0.3},{"s":"s34","x":176,"y":0.55},{"s":"s34","x":178,"y":0.25},{"s":"s34","x":181,"y":0.2},{"s":"s34","x":184,"y":0.25},{"s":"s34","x":187,"y":0.2},{"s":"s34","x":190,"y":0.15},{"s":"s34","x":193,"y":0.12},{"s":"s34","x":196,"y":0.1},{"s":"s34","x":198,"y":0.05},{"s":"s34","x":200,"y":0.0},

      {"s":"s35","x":0,"y":0},{"s":"s35","x":2,"y":-0.3},{"s":"s35","x":4,"y":-0.5},{"s":"s35","x":6,"y":-0.55},{"s":"s35","x":8,"y":-0.48},{"s":"s35","x":10,"y":-0.55},{"s":"s35","x":12,"y":-0.47},{"s":"s35","x":15,"y":-0.52},{"s":"s35","x":18,"y":-0.45},{"s":"s35","x":21,"y":-0.5},{"s":"s35","x":24,"y":-0.42},{"s":"s35","x":27,"y":-0.47},{"s":"s35","x":30,"y":-0.4},{"s":"s35","x":33,"y":-0.45},{"s":"s35","x":36,"y":-0.38},{"s":"s35","x":39,"y":-0.43},{"s":"s35","x":42,"y":-0.36},{"s":"s35","x":45,"y":-0.41},{"s":"s35","x":48,"y":-0.35},{"s":"s35","x":51,"y":-0.4},{"s":"s35","x":54,"y":-0.33},{"s":"s35","x":57,"y":-0.38},{"s":"s35","x":60,"y":-0.32},{"s":"s35","x":63,"y":-0.37},{"s":"s35","x":66,"y":-0.3},{"s":"s35","x":69,"y":-0.35},{"s":"s35","x":72,"y":-0.3},{"s":"s35","x":75,"y":-0.34},{"s":"s35","x":78,"y":-0.28},{"s":"s35","x":81,"y":-0.33},{"s":"s35","x":84,"y":-0.27},{"s":"s35","x":87,"y":-0.31},{"s":"s35","x":90,"y":-0.26},{"s":"s35","x":93,"y":-0.2},{"s":"s35","x":95,"y":0.0},{"s":"s35","x":97,"y":0.4},{"s":"s35","x":99,"y":0.3},{"s":"s35","x":101,"y":-0.3},{"s":"s35","x":103,"y":-0.65},{"s":"s35","x":105,"y":-0.45},{"s":"s35","x":108,"y":-0.35},{"s":"s35","x":111,"y":-0.38},{"s":"s35","x":114,"y":-0.32},{"s":"s35","x":117,"y":-0.36},{"s":"s35","x":120,"y":-0.3},{"s":"s35","x":123,"y":-0.35},{"s":"s35","x":126,"y":-0.3},{"s":"s35","x":129,"y":-0.34},{"s":"s35","x":132,"y":-0.3},{"s":"s35","x":135,"y":-0.36},{"s":"s35","x":138,"y":-0.32},{"s":"s35","x":141,"y":-0.38},{"s":"s35","x":144,"y":-0.33},{"s":"s35","x":147,"y":-0.4},{"s":"s35","x":150,"y":-0.35},{"s":"s35","x":153,"y":-0.42},{"s":"s35","x":156,"y":-0.36},{"s":"s35","x":159,"y":-0.4},{"s":"s35","x":162,"y":-0.34},{"s":"s35","x":165,"y":-0.38},{"s":"s35","x":168,"y":-0.32},{"s":"s35","x":171,"y":-0.36},{"s":"s35","x":174,"y":-0.3},{"s":"s35","x":177,"y":-0.34},{"s":"s35","x":180,"y":-0.28},{"s":"s35","x":183,"y":-0.32},{"s":"s35","x":186,"y":-0.27},{"s":"s35","x":189,"y":-0.3},{"s":"s35","x":192,"y":-0.24},{"s":"s35","x":195,"y":-0.25},{"s":"s35","x":198,"y":-0.15},{"s":"s35","x":200,"y":-0.08},

      {"s":"s36","x":0,"y":0},{"s":"s36","x":2,"y":0.0},{"s":"s36","x":4,"y":0.05},{"s":"s36","x":6,"y":0.1},{"s":"s36","x":8,"y":0.05},{"s":"s36","x":10,"y":0.12},{"s":"s36","x":13,"y":0.08},{"s":"s36","x":16,"y":0.14},{"s":"s36","x":19,"y":0.1},{"s":"s36","x":22,"y":0.15},{"s":"s36","x":25,"y":0.1},{"s":"s36","x":28,"y":0.16},{"s":"s36","x":31,"y":0.1},{"s":"s36","x":34,"y":0.14},{"s":"s36","x":37,"y":0.2},{"s":"s36","x":40,"y":0.22},{"s":"s36","x":43,"y":0.15},{"s":"s36","x":46,"y":0.18},{"s":"s36","x":49,"y":0.1},{"s":"s36","x":52,"y":0.14},{"s":"s36","x":55,"y":0.08},{"s":"s36","x":58,"y":0.12},{"s":"s36","x":61,"y":0.06},{"s":"s36","x":64,"y":0.1},{"s":"s36","x":67,"y":0.05},{"s":"s36","x":70,"y":0.08},{"s":"s36","x":73,"y":0.03},{"s":"s36","x":76,"y":0.07},{"s":"s36","x":79,"y":0.02},{"s":"s36","x":82,"y":0.06},{"s":"s36","x":85,"y":0.01},{"s":"s36","x":88,"y":0.05},{"s":"s36","x":91,"y":0.0},{"s":"s36","x":93,"y":0.1},{"s":"s36","x":95,"y":0.6},{"s":"s36","x":97,"y":1.1},{"s":"s36","x":99,"y":1.0},{"s":"s36","x":101,"y":0.2},{"s":"s36","x":103,"y":-0.3},{"s":"s36","x":105,"y":-0.15},{"s":"s36","x":108,"y":0.0},{"s":"s36","x":111,"y":0.1},{"s":"s36","x":114,"y":0.15},{"s":"s36","x":117,"y":0.12},{"s":"s36","x":120,"y":0.1},{"s":"s36","x":123,"y":0.15},{"s":"s36","x":126,"y":0.12},{"s":"s36","x":129,"y":0.1},{"s":"s36","x":132,"y":0.15},{"s":"s36","x":135,"y":0.12},{"s":"s36","x":138,"y":0.18},{"s":"s36","x":141,"y":0.2},{"s":"s36","x":144,"y":0.25},{"s":"s36","x":147,"y":0.28},{"s":"s36","x":150,"y":0.3},{"s":"s36","x":153,"y":0.32},{"s":"s36","x":156,"y":0.3},{"s":"s36","x":159,"y":0.35},{"s":"s36","x":162,"y":0.32},{"s":"s36","x":165,"y":0.3},{"s":"s36","x":168,"y":0.25},{"s":"s36","x":171,"y":0.22},{"s":"s36","x":174,"y":0.2},{"s":"s36","x":177,"y":0.18},{"s":"s36","x":180,"y":0.2},{"s":"s36","x":183,"y":0.25},{"s":"s36","x":186,"y":0.3},{"s":"s36","x":189,"y":0.35},{"s":"s36","x":192,"y":0.3},{"s":"s36","x":195,"y":0.2},{"s":"s36","x":198,"y":0.1},{"s":"s36","x":200,"y":0.05},

      {"s":"s37","x":0,"y":0},{"s":"s37","x":2,"y":-0.1},{"s":"s37","x":4,"y":-0.2},{"s":"s37","x":6,"y":-0.3},{"s":"s37","x":8,"y":-0.25},{"s":"s37","x":10,"y":-0.35},{"s":"s37","x":12,"y":-0.28},{"s":"s37","x":15,"y":-0.38},{"s":"s37","x":18,"y":-0.3},{"s":"s37","x":21,"y":-0.5},{"s":"s37","x":23,"y":-0.32},{"s":"s37","x":26,"y":-0.36},{"s":"s37","x":29,"y":-0.3},{"s":"s37","x":32,"y":-0.35},{"s":"s37","x":35,"y":-0.28},{"s":"s37","x":38,"y":-0.32},{"s":"s37","x":41,"y":-0.25},{"s":"s37","x":44,"y":-0.3},{"s":"s37","x":47,"y":-0.22},{"s":"s37","x":50,"y":-0.28},{"s":"s37","x":53,"y":-0.2},{"s":"s37","x":56,"y":-0.26},{"s":"s37","x":59,"y":-0.2},{"s":"s37","x":62,"y":-0.25},{"s":"s37","x":65,"y":-0.18},{"s":"s37","x":68,"y":-0.24},{"s":"s37","x":71,"y":-0.18},{"s":"s37","x":74,"y":-0.22},{"s":"s37","x":77,"y":-0.16},{"s":"s37","x":80,"y":-0.22},{"s":"s37","x":83,"y":-0.17},{"s":"s37","x":86,"y":-0.2},{"s":"s37","x":89,"y":-0.15},{"s":"s37","x":92,"y":-0.12},{"s":"s37","x":94,"y":0.05},{"s":"s37","x":96,"y":0.6},{"s":"s37","x":98,"y":1.0},{"s":"s37","x":100,"y":0.6},{"s":"s37","x":102,"y":-0.3},{"s":"s37","x":104,"y":-0.6},{"s":"s37","x":106,"y":-0.4},{"s":"s37","x":109,"y":-0.25},{"s":"s37","x":112,"y":-0.3},{"s":"s37","x":115,"y":-0.22},{"s":"s37","x":118,"y":-0.28},{"s":"s37","x":121,"y":-0.2},{"s":"s37","x":124,"y":-0.26},{"s":"s37","x":127,"y":-0.2},{"s":"s37","x":130,"y":-0.27},{"s":"s37","x":133,"y":-0.2},{"s":"s37","x":136,"y":-0.3},{"s":"s37","x":139,"y":-0.22},{"s":"s37","x":142,"y":-0.33},{"s":"s37","x":145,"y":-0.25},{"s":"s37","x":148,"y":-0.35},{"s":"s37","x":151,"y":-0.27},{"s":"s37","x":154,"y":-0.38},{"s":"s37","x":157,"y":-0.28},{"s":"s37","x":160,"y":-0.35},{"s":"s37","x":163,"y":-0.27},{"s":"s37","x":166,"y":-0.33},{"s":"s37","x":169,"y":-0.25},{"s":"s37","x":172,"y":-0.3},{"s":"s37","x":175,"y":-0.23},{"s":"s37","x":178,"y":-0.28},{"s":"s37","x":181,"y":-0.22},{"s":"s37","x":184,"y":-0.27},{"s":"s37","x":187,"y":-0.2},{"s":"s37","x":190,"y":-0.25},{"s":"s37","x":193,"y":-0.18},{"s":"s37","x":196,"y":-0.2},{"s":"s37","x":198,"y":-0.12},{"s":"s37","x":200,"y":-0.05},

      {"s":"s38","x":0,"y":0},{"s":"s38","x":2,"y":0.0},{"s":"s38","x":4,"y":-0.05},{"s":"s38","x":6,"y":0.0},{"s":"s38","x":8,"y":-0.05},{"s":"s38","x":11,"y":0.02},{"s":"s38","x":14,"y":-0.04},{"s":"s38","x":17,"y":0.03},{"s":"s38","x":20,"y":-0.03},{"s":"s38","x":23,"y":0.05},{"s":"s38","x":26,"y":0.0},{"s":"s38","x":29,"y":0.08},{"s":"s38","x":32,"y":0.03},{"s":"s38","x":35,"y":0.1},{"s":"s38","x":38,"y":0.05},{"s":"s38","x":41,"y":0.12},{"s":"s38","x":44,"y":0.06},{"s":"s38","x":47,"y":0.1},{"s":"s38","x":50,"y":0.05},{"s":"s38","x":53,"y":0.12},{"s":"s38","x":56,"y":0.08},{"s":"s38","x":59,"y":0.15},{"s":"s38","x":62,"y":0.1},{"s":"s38","x":65,"y":0.18},{"s":"s38","x":68,"y":0.12},{"s":"s38","x":71,"y":0.2},{"s":"s38","x":74,"y":0.15},{"s":"s38","x":77,"y":0.22},{"s":"s38","x":80,"y":0.18},{"s":"s38","x":83,"y":0.24},{"s":"s38","x":86,"y":0.2},{"s":"s38","x":89,"y":0.25},{"s":"s38","x":92,"y":0.2},{"s":"s38","x":94,"y":0.25},{"s":"s38","x":96,"y":0.5},{"s":"s38","x":98,"y":0.8},{"s":"s38","x":100,"y":0.5},{"s":"s38","x":102,"y":-0.1},{"s":"s38","x":104,"y":-0.3},{"s":"s38","x":106,"y":-0.18},{"s":"s38","x":109,"y":-0.12},{"s":"s38","x":112,"y":-0.16},{"s":"s38","x":115,"y":-0.1},{"s":"s38","x":118,"y":-0.15},{"s":"s38","x":121,"y":-0.09},{"s":"s38","x":124,"y":-0.14},{"s":"s38","x":127,"y":-0.08},{"s":"s38","x":130,"y":-0.13},{"s":"s38","x":133,"y":-0.07},{"s":"s38","x":136,"y":-0.12},{"s":"s38","x":139,"y":-0.06},{"s":"s38","x":142,"y":-0.12},{"s":"s38","x":145,"y":-0.07},{"s":"s38","x":148,"y":-0.14},{"s":"s38","x":151,"y":-0.08},{"s":"s38","x":154,"y":-0.15},{"s":"s38","x":157,"y":-0.1},{"s":"s38","x":160,"y":-0.17},{"s":"s38","x":163,"y":-0.12},{"s":"s38","x":166,"y":-0.18},{"s":"s38","x":169,"y":-0.12},{"s":"s38","x":172,"y":-0.18},{"s":"s38","x":175,"y":-0.13},{"s":"s38","x":178,"y":-0.2},{"s":"s38","x":181,"y":-0.14},{"s":"s38","x":184,"y":-0.2},{"s":"s38","x":187,"y":-0.14},{"s":"s38","x":190,"y":-0.18},{"s":"s38","x":193,"y":-0.12},{"s":"s38","x":196,"y":-0.15},{"s":"s38","x":198,"y":-0.08},{"s":"s38","x":200,"y":-0.03},

      {"s":"s39","x":0,"y":0},{"s":"s39","x":2,"y":-0.1},{"s":"s39","x":4,"y":-0.2},{"s":"s39","x":6,"y":-0.15},{"s":"s39","x":8,"y":-0.22},{"s":"s39","x":11,"y":-0.15},{"s":"s39","x":14,"y":-0.2},{"s":"s39","x":17,"y":-0.12},{"s":"s39","x":20,"y":-0.18},{"s":"s39","x":23,"y":-0.1},{"s":"s39","x":26,"y":-0.15},{"s":"s39","x":29,"y":-0.08},{"s":"s39","x":32,"y":-0.12},{"s":"s39","x":35,"y":-0.05},{"s":"s39","x":38,"y":-0.1},{"s":"s39","x":41,"y":-0.04},{"s":"s39","x":44,"y":-0.08},{"s":"s39","x":47,"y":-0.02},{"s":"s39","x":50,"y":-0.06},{"s":"s39","x":53,"y":0.0},{"s":"s39","x":56,"y":-0.04},{"s":"s39","x":59,"y":0.02},{"s":"s39","x":62,"y":-0.02},{"s":"s39","x":65,"y":0.03},{"s":"s39","x":68,"y":0.0},{"s":"s39","x":71,"y":0.04},{"s":"s39","x":74,"y":0.0},{"s":"s39","x":77,"y":0.05},{"s":"s39","x":80,"y":0.02},{"s":"s39","x":83,"y":0.06},{"s":"s39","x":86,"y":0.02},{"s":"s39","x":89,"y":0.05},{"s":"s39","x":92,"y":0.03},{"s":"s39","x":94,"y":0.2},{"s":"s39","x":96,"y":0.7},{"s":"s39","x":98,"y":1.05},{"s":"s39","x":100,"y":0.9},{"s":"s39","x":102,"y":0.2},{"s":"s39","x":104,"y":-0.35},{"s":"s39","x":106,"y":-0.2},{"s":"s39","x":109,"y":-0.05},{"s":"s39","x":112,"y":0.0},{"s":"s39","x":115,"y":0.05},{"s":"s39","x":118,"y":0.02},{"s":"s39","x":121,"y":0.08},{"s":"s39","x":124,"y":0.05},{"s":"s39","x":127,"y":0.1},{"s":"s39","x":130,"y":0.15},{"s":"s39","x":133,"y":0.2},{"s":"s39","x":136,"y":0.3},{"s":"s39","x":138,"y":0.6},{"s":"s39","x":140,"y":0.3},{"s":"s39","x":143,"y":0.35},{"s":"s39","x":145,"y":0.7},{"s":"s39","x":147,"y":0.3},{"s":"s39","x":150,"y":0.4},{"s":"s39","x":152,"y":0.75},{"s":"s39","x":154,"y":0.3},{"s":"s39","x":157,"y":0.35},{"s":"s39","x":159,"y":0.6},{"s":"s39","x":161,"y":0.25},{"s":"s39","x":164,"y":0.3},{"s":"s39","x":166,"y":0.55},{"s":"s39","x":168,"y":0.2},{"s":"s39","x":171,"y":0.25},{"s":"s39","x":174,"y":0.5},{"s":"s39","x":176,"y":0.2},{"s":"s39","x":180,"y":0.15},{"s":"s39","x":184,"y":0.2},{"s":"s39","x":188,"y":0.15},{"s":"s39","x":192,"y":0.12},{"s":"s39","x":196,"y":0.08},{"s":"s39","x":198,"y":0.05},{"s":"s39","x":200,"y":0.02},

      {"s":"s40","x":0,"y":0},{"s":"s40","x":2,"y":-0.2},{"s":"s40","x":4,"y":-0.4},{"s":"s40","x":6,"y":-0.35},{"s":"s40","x":8,"y":-0.5},{"s":"s40","x":10,"y":-0.4},{"s":"s40","x":12,"y":-0.55},{"s":"s40","x":14,"y":-0.42},{"s":"s40","x":17,"y":-0.5},{"s":"s40","x":20,"y":-0.38},{"s":"s40","x":23,"y":-0.45},{"s":"s40","x":26,"y":-0.35},{"s":"s40","x":29,"y":-0.4},{"s":"s40","x":32,"y":-0.3},{"s":"s40","x":35,"y":-0.35},{"s":"s40","x":38,"y":-0.25},{"s":"s40","x":41,"y":-0.3},{"s":"s40","x":44,"y":-0.22},{"s":"s40","x":47,"y":-0.28},{"s":"s40","x":50,"y":-0.2},{"s":"s40","x":53,"y":-0.25},{"s":"s40","x":56,"y":-0.18},{"s":"s40","x":59,"y":-0.22},{"s":"s40","x":62,"y":-0.15},{"s":"s40","x":65,"y":-0.2},{"s":"s40","x":68,"y":-0.13},{"s":"s40","x":71,"y":-0.18},{"s":"s40","x":74,"y":-0.12},{"s":"s40","x":77,"y":-0.16},{"s":"s40","x":80,"y":-0.1},{"s":"s40","x":83,"y":-0.15},{"s":"s40","x":86,"y":-0.1},{"s":"s40","x":89,"y":-0.13},{"s":"s40","x":92,"y":-0.08},{"s":"s40","x":94,"y":0.1},{"s":"s40","x":96,"y":0.55},{"s":"s40","x":98,"y":0.9},{"s":"s40","x":100,"y":0.6},{"s":"s40","x":102,"y":-0.2},{"s":"s40","x":104,"y":-0.5},{"s":"s40","x":106,"y":-0.3},{"s":"s40","x":109,"y":-0.2},{"s":"s40","x":112,"y":-0.24},{"s":"s40","x":115,"y":-0.18},{"s":"s40","x":118,"y":-0.22},{"s":"s40","x":121,"y":-0.16},{"s":"s40","x":124,"y":-0.2},{"s":"s40","x":127,"y":-0.15},{"s":"s40","x":130,"y":-0.2},{"s":"s40","x":133,"y":-0.14},{"s":"s40","x":136,"y":-0.2},{"s":"s40","x":139,"y":-0.15},{"s":"s40","x":142,"y":-0.22},{"s":"s40","x":145,"y":-0.16},{"s":"s40","x":148,"y":-0.24},{"s":"s40","x":151,"y":-0.18},{"s":"s40","x":154,"y":-0.26},{"s":"s40","x":157,"y":-0.2},{"s":"s40","x":160,"y":-0.28},{"s":"s40","x":163,"y":-0.22},{"s":"s40","x":166,"y":-0.3},{"s":"s40","x":169,"y":-0.24},{"s":"s40","x":172,"y":-0.3},{"s":"s40","x":175,"y":-0.24},{"s":"s40","x":178,"y":-0.28},{"s":"s40","x":181,"y":-0.22},{"s":"s40","x":184,"y":-0.26},{"s":"s40","x":187,"y":-0.2},{"s":"s40","x":190,"y":-0.24},{"s":"s40","x":193,"y":-0.18},{"s":"s40","x":196,"y":-0.2},{"s":"s40","x":198,"y":-0.12},{"s":"s40","x":200,"y":-0.05},

      {"s":"s41","x":0,"y":0},{"s":"s41","x":2,"y":0.15},{"s":"s41","x":4,"y":0.3},{"s":"s41","x":6,"y":0.4},{"s":"s41","x":8,"y":0.32},{"s":"s41","x":10,"y":0.45},{"s":"s41","x":12,"y":0.38},{"s":"s41","x":14,"y":0.42},{"s":"s41","x":16,"y":0.3},{"s":"s41","x":18,"y":0.38},{"s":"s41","x":20,"y":0.28},{"s":"s41","x":23,"y":0.35},{"s":"s41","x":26,"y":0.25},{"s":"s41","x":29,"y":0.3},{"s":"s41","x":32,"y":0.2},{"s":"s41","x":35,"y":0.26},{"s":"s41","x":38,"y":0.18},{"s":"s41","x":41,"y":0.24},{"s":"s41","x":44,"y":0.15},{"s":"s41","x":47,"y":0.22},{"s":"s41","x":50,"y":0.14},{"s":"s41","x":53,"y":0.2},{"s":"s41","x":56,"y":0.12},{"s":"s41","x":59,"y":0.18},{"s":"s41","x":62,"y":0.1},{"s":"s41","x":65,"y":0.15},{"s":"s41","x":68,"y":0.1},{"s":"s41","x":71,"y":0.14},{"s":"s41","x":74,"y":0.08},{"s":"s41","x":77,"y":0.13},{"s":"s41","x":80,"y":0.08},{"s":"s41","x":83,"y":0.12},{"s":"s41","x":86,"y":0.06},{"s":"s41","x":89,"y":0.1},{"s":"s41","x":92,"y":0.08},{"s":"s41","x":94,"y":0.3},{"s":"s41","x":96,"y":0.75},{"s":"s41","x":98,"y":1.1},{"s":"s41","x":100,"y":0.95},{"s":"s41","x":102,"y":0.3},{"s":"s41","x":104,"y":-0.1},{"s":"s41","x":106,"y":0.05},{"s":"s41","x":109,"y":0.12},{"s":"s41","x":112,"y":0.08},{"s":"s41","x":115,"y":0.14},{"s":"s41","x":118,"y":0.1},{"s":"s41","x":121,"y":0.18},{"s":"s41","x":124,"y":0.15},{"s":"s41","x":127,"y":0.22},{"s":"s41","x":130,"y":0.2},{"s":"s41","x":133,"y":0.28},{"s":"s41","x":136,"y":0.25},{"s":"s41","x":139,"y":0.32},{"s":"s41","x":142,"y":0.3},{"s":"s41","x":145,"y":0.36},{"s":"s41","x":148,"y":0.32},{"s":"s41","x":151,"y":0.38},{"s":"s41","x":154,"y":0.3},{"s":"s41","x":157,"y":0.35},{"s":"s41","x":160,"y":0.28},{"s":"s41","x":163,"y":0.32},{"s":"s41","x":166,"y":0.25},{"s":"s41","x":169,"y":0.3},{"s":"s41","x":172,"y":0.22},{"s":"s41","x":175,"y":0.27},{"s":"s41","x":178,"y":0.2},{"s":"s41","x":181,"y":0.25},{"s":"s41","x":184,"y":0.18},{"s":"s41","x":187,"y":0.22},{"s":"s41","x":190,"y":0.15},{"s":"s41","x":193,"y":0.18},{"s":"s41","x":196,"y":0.12},{"s":"s41","x":198,"y":0.08},{"s":"s41","x":200,"y":0.03},

      {"s":"s42","x":0,"y":0},{"s":"s42","x":2,"y":-0.25},{"s":"s42","x":4,"y":-0.5},{"s":"s42","x":6,"y":-0.62},{"s":"s42","x":8,"y":-0.5},{"s":"s42","x":10,"y":-0.58},{"s":"s42","x":12,"y":-0.48},{"s":"s42","x":14,"y":-0.6},{"s":"s42","x":16,"y":-0.5},{"s":"s42","x":18,"y":-0.55},{"s":"s42","x":20,"y":-0.45},{"s":"s42","x":22,"y":-0.62},{"s":"s42","x":24,"y":-0.48},{"s":"s42","x":27,"y":-0.52},{"s":"s42","x":30,"y":-0.42},{"s":"s42","x":33,"y":-0.48},{"s":"s42","x":36,"y":-0.4},{"s":"s42","x":39,"y":-0.45},{"s":"s42","x":42,"y":-0.38},{"s":"s42","x":45,"y":-0.43},{"s":"s42","x":48,"y":-0.36},{"s":"s42","x":51,"y":-0.42},{"s":"s42","x":54,"y":-0.35},{"s":"s42","x":57,"y":-0.4},{"s":"s42","x":60,"y":-0.33},{"s":"s42","x":63,"y":-0.38},{"s":"s42","x":66,"y":-0.32},{"s":"s42","x":69,"y":-0.37},{"s":"s42","x":72,"y":-0.3},{"s":"s42","x":75,"y":-0.35},{"s":"s42","x":78,"y":-0.3},{"s":"s42","x":81,"y":-0.34},{"s":"s42","x":84,"y":-0.28},{"s":"s42","x":87,"y":-0.33},{"s":"s42","x":90,"y":-0.28},{"s":"s42","x":93,"y":-0.2},{"s":"s42","x":95,"y":0.05},{"s":"s42","x":97,"y":0.5},{"s":"s42","x":99,"y":0.45},{"s":"s42","x":101,"y":-0.2},{"s":"s42","x":103,"y":-0.6},{"s":"s42","x":105,"y":-0.5},{"s":"s42","x":108,"y":-0.35},{"s":"s42","x":111,"y":-0.4},{"s":"s42","x":114,"y":-0.33},{"s":"s42","x":117,"y":-0.38},{"s":"s42","x":120,"y":-0.32},{"s":"s42","x":123,"y":-0.37},{"s":"s42","x":126,"y":-0.3},{"s":"s42","x":129,"y":-0.36},{"s":"s42","x":132,"y":-0.3},{"s":"s42","x":135,"y":-0.35},{"s":"s42","x":138,"y":-0.3},{"s":"s42","x":141,"y":-0.37},{"s":"s42","x":144,"y":-0.3},{"s":"s42","x":147,"y":-0.4},{"s":"s42","x":150,"y":-0.32},{"s":"s42","x":153,"y":-0.38},{"s":"s42","x":156,"y":-0.3},{"s":"s42","x":159,"y":-0.36},{"s":"s42","x":162,"y":-0.28},{"s":"s42","x":165,"y":-0.35},{"s":"s42","x":168,"y":-0.28},{"s":"s42","x":171,"y":-0.34},{"s":"s42","x":174,"y":-0.27},{"s":"s42","x":177,"y":-0.32},{"s":"s42","x":180,"y":-0.26},{"s":"s42","x":183,"y":-0.3},{"s":"s42","x":186,"y":-0.25},{"s":"s42","x":189,"y":-0.28},{"s":"s42","x":192,"y":-0.22},{"s":"s42","x":195,"y":-0.22},{"s":"s42","x":198,"y":-0.14},{"s":"s42","x":200,"y":-0.07},

      {"s":"s43","x":0,"y":0},{"s":"s43","x":2,"y":0.05},{"s":"s43","x":4,"y":0.12},{"s":"s43","x":6,"y":0.2},{"s":"s43","x":8,"y":0.15},{"s":"s43","x":10,"y":0.25},{"s":"s43","x":13,"y":0.2},{"s":"s43","x":16,"y":0.28},{"s":"s43","x":19,"y":0.22},{"s":"s43","x":22,"y":0.3},{"s":"s43","x":25,"y":0.24},{"s":"s43","x":28,"y":0.3},{"s":"s43","x":31,"y":0.25},{"s":"s43","x":34,"y":0.3},{"s":"s43","x":37,"y":0.26},{"s":"s43","x":40,"y":0.3},{"s":"s43","x":43,"y":0.25},{"s":"s43","x":46,"y":0.28},{"s":"s43","x":49,"y":0.22},{"s":"s43","x":52,"y":0.26},{"s":"s43","x":55,"y":0.2},{"s":"s43","x":58,"y":0.25},{"s":"s43","x":61,"y":0.28},{"s":"s43","x":64,"y":0.3},{"s":"s43","x":67,"y":0.27},{"s":"s43","x":70,"y":0.25},{"s":"s43","x":73,"y":0.2},{"s":"s43","x":76,"y":0.22},{"s":"s43","x":79,"y":0.16},{"s":"s43","x":82,"y":0.18},{"s":"s43","x":85,"y":0.12},{"s":"s43","x":88,"y":0.15},{"s":"s43","x":91,"y":0.1},{"s":"s43","x":93,"y":0.15},{"s":"s43","x":95,"y":0.55},{"s":"s43","x":97,"y":1.0},{"s":"s43","x":99,"y":1.05},{"s":"s43","x":101,"y":0.4},{"s":"s43","x":103,"y":-0.2},{"s":"s43","x":105,"y":-0.1},{"s":"s43","x":108,"y":0.05},{"s":"s43","x":111,"y":0.1},{"s":"s43","x":114,"y":0.06},{"s":"s43","x":117,"y":0.1},{"s":"s43","x":120,"y":0.05},{"s":"s43","x":123,"y":0.1},{"s":"s43","x":126,"y":0.06},{"s":"s43","x":129,"y":0.12},{"s":"s43","x":132,"y":0.08},{"s":"s43","x":135,"y":0.14},{"s":"s43","x":138,"y":0.1},{"s":"s43","x":141,"y":0.16},{"s":"s43","x":144,"y":0.12},{"s":"s43","x":147,"y":0.18},{"s":"s43","x":150,"y":0.14},{"s":"s43","x":153,"y":0.18},{"s":"s43","x":156,"y":0.12},{"s":"s43","x":159,"y":0.15},{"s":"s43","x":162,"y":0.1},{"s":"s43","x":165,"y":0.12},{"s":"s43","x":168,"y":0.07},{"s":"s43","x":171,"y":0.1},{"s":"s43","x":174,"y":0.05},{"s":"s43","x":177,"y":0.08},{"s":"s43","x":180,"y":0.03},{"s":"s43","x":183,"y":0.06},{"s":"s43","x":186,"y":0.02},{"s":"s43","x":189,"y":0.04},{"s":"s43","x":192,"y":0.0},{"s":"s43","x":195,"y":0.02},{"s":"s43","x":198,"y":0.0},{"s":"s43","x":200,"y":0.0},

      {"s":"s44","x":0,"y":0},{"s":"s44","x":2,"y":-0.15},{"s":"s44","x":4,"y":-0.3},{"s":"s44","x":6,"y":-0.25},{"s":"s44","x":8,"y":-0.35},{"s":"s44","x":10,"y":-0.28},{"s":"s44","x":12,"y":-0.38},{"s":"s44","x":15,"y":-0.3},{"s":"s44","x":18,"y":-0.36},{"s":"s44","x":21,"y":-0.28},{"s":"s44","x":24,"y":-0.34},{"s":"s44","x":27,"y":-0.26},{"s":"s44","x":30,"y":-0.32},{"s":"s44","x":33,"y":-0.24},{"s":"s44","x":36,"y":-0.3},{"s":"s44","x":39,"y":-0.22},{"s":"s44","x":42,"y":-0.28},{"s":"s44","x":45,"y":-0.2},{"s":"s44","x":48,"y":-0.26},{"s":"s44","x":51,"y":-0.2},{"s":"s44","x":54,"y":-0.25},{"s":"s44","x":57,"y":-0.18},{"s":"s44","x":60,"y":-0.24},{"s":"s44","x":63,"y":-0.18},{"s":"s44","x":66,"y":-0.22},{"s":"s44","x":69,"y":-0.16},{"s":"s44","x":72,"y":-0.21},{"s":"s44","x":75,"y":-0.16},{"s":"s44","x":78,"y":-0.2},{"s":"s44","x":81,"y":-0.15},{"s":"s44","x":84,"y":-0.19},{"s":"s44","x":87,"y":-0.14},{"s":"s44","x":90,"y":-0.18},{"s":"s44","x":93,"y":-0.1},{"s":"s44","x":95,"y":0.25},{"s":"s44","x":97,"y":0.7},{"s":"s44","x":99,"y":0.65},{"s":"s44","x":101,"y":0.0},{"s":"s44","x":103,"y":-0.45},{"s":"s44","x":105,"y":-0.3},{"s":"s44","x":108,"y":-0.2},{"s":"s44","x":111,"y":-0.25},{"s":"s44","x":114,"y":-0.18},{"s":"s44","x":117,"y":-0.24},{"s":"s44","x":120,"y":-0.18},{"s":"s44","x":123,"y":-0.23},{"s":"s44","x":126,"y":-0.17},{"s":"s44","x":129,"y":-0.24},{"s":"s44","x":132,"y":-0.2},{"s":"s44","x":135,"y":-0.28},{"s":"s44","x":138,"y":-0.25},{"s":"s44","x":140,"y":-0.35},{"s":"s44","x":142,"y":-0.43},{"s":"s44","x":144,"y":-0.3},{"s":"s44","x":147,"y":-0.28},{"s":"s44","x":150,"y":-0.38},{"s":"s44","x":152,"y":-0.3},{"s":"s44","x":155,"y":-0.35},{"s":"s44","x":158,"y":-0.28},{"s":"s44","x":161,"y":-0.4},{"s":"s44","x":163,"y":-0.3},{"s":"s44","x":166,"y":-0.33},{"s":"s44","x":169,"y":-0.27},{"s":"s44","x":172,"y":-0.35},{"s":"s44","x":175,"y":-0.26},{"s":"s44","x":178,"y":-0.3},{"s":"s44","x":181,"y":-0.24},{"s":"s44","x":184,"y":-0.28},{"s":"s44","x":187,"y":-0.22},{"s":"s44","x":190,"y":-0.27},{"s":"s44","x":193,"y":-0.2},{"s":"s44","x":196,"y":-0.2},{"s":"s44","x":198,"y":-0.12},{"s":"s44","x":200,"y":-0.05},

      {"s":"s45","x":0,"y":0},{"s":"s45","x":2,"y":0.05},{"s":"s45","x":4,"y":0.0},{"s":"s45","x":6,"y":0.08},{"s":"s45","x":8,"y":0.02},{"s":"s45","x":10,"y":0.1},{"s":"s45","x":13,"y":0.04},{"s":"s45","x":16,"y":0.12},{"s":"s45","x":19,"y":0.06},{"s":"s45","x":22,"y":0.13},{"s":"s45","x":25,"y":0.07},{"s":"s45","x":28,"y":0.14},{"s":"s45","x":31,"y":0.08},{"s":"s45","x":34,"y":0.12},{"s":"s45","x":37,"y":0.06},{"s":"s45","x":40,"y":0.1},{"s":"s45","x":43,"y":0.05},{"s":"s45","x":46,"y":0.09},{"s":"s45","x":49,"y":0.03},{"s":"s45","x":52,"y":0.08},{"s":"s45","x":55,"y":0.02},{"s":"s45","x":58,"y":0.07},{"s":"s45","x":61,"y":0.02},{"s":"s45","x":64,"y":0.06},{"s":"s45","x":67,"y":0.01},{"s":"s45","x":70,"y":0.06},{"s":"s45","x":73,"y":0.0},{"s":"s45","x":76,"y":0.05},{"s":"s45","x":79,"y":0.0},{"s":"s45","x":82,"y":0.05},{"s":"s45","x":85,"y":0.0},{"s":"s45","x":88,"y":0.04},{"s":"s45","x":91,"y":0.0},{"s":"s45","x":93,"y":0.1},{"s":"s45","x":95,"y":0.5},{"s":"s45","x":97,"y":0.95},{"s":"s45","x":99,"y":1.0},{"s":"s45","x":101,"y":0.3},{"s":"s45","x":103,"y":-0.25},{"s":"s45","x":105,"y":-0.15},{"s":"s45","x":108,"y":0.05},{"s":"s45","x":111,"y":0.1},{"s":"s45","x":114,"y":0.15},{"s":"s45","x":117,"y":0.12},{"s":"s45","x":120,"y":0.18},{"s":"s45","x":123,"y":0.15},{"s":"s45","x":126,"y":0.22},{"s":"s45","x":129,"y":0.2},{"s":"s45","x":132,"y":0.28},{"s":"s45","x":135,"y":0.25},{"s":"s45","x":138,"y":0.32},{"s":"s45","x":141,"y":0.3},{"s":"s45","x":144,"y":0.38},{"s":"s45","x":147,"y":0.35},{"s":"s45","x":150,"y":0.42},{"s":"s45","x":153,"y":0.38},{"s":"s45","x":156,"y":0.45},{"s":"s45","x":159,"y":0.4},{"s":"s45","x":162,"y":0.42},{"s":"s45","x":165,"y":0.35},{"s":"s45","x":168,"y":0.38},{"s":"s45","x":171,"y":0.3},{"s":"s45","x":174,"y":0.32},{"s":"s45","x":177,"y":0.25},{"s":"s45","x":180,"y":0.28},{"s":"s45","x":183,"y":0.2},{"s":"s45","x":186,"y":0.22},{"s":"s45","x":189,"y":0.15},{"s":"s45","x":192,"y":0.16},{"s":"s45","x":195,"y":0.1},{"s":"s45","x":198,"y":0.06},{"s":"s45","x":200,"y":0.02},

      {"s":"s46","x":0,"y":0},{"s":"s46","x":1.5,"y":-0.3},{"s":"s46","x":3,"y":-0.72},{"s":"s46","x":4.5,"y":-0.6},{"s":"s46","x":6,"y":-0.65},{"s":"s46","x":8,"y":-0.55},{"s":"s46","x":10,"y":-0.6},{"s":"s46","x":12,"y":-0.5},{"s":"s46","x":14,"y":-0.55},{"s":"s46","x":17,"y":-0.45},{"s":"s46","x":20,"y":-0.5},{"s":"s46","x":23,"y":-0.42},{"s":"s46","x":26,"y":-0.46},{"s":"s46","x":29,"y":-0.38},{"s":"s46","x":32,"y":-0.42},{"s":"s46","x":35,"y":-0.35},{"s":"s46","x":38,"y":-0.38},{"s":"s46","x":41,"y":-0.32},{"s":"s46","x":44,"y":-0.36},{"s":"s46","x":47,"y":-0.3},{"s":"s46","x":50,"y":-0.33},{"s":"s46","x":53,"y":-0.28},{"s":"s46","x":56,"y":-0.32},{"s":"s46","x":59,"y":-0.27},{"s":"s46","x":62,"y":-0.3},{"s":"s46","x":65,"y":-0.25},{"s":"s46","x":68,"y":-0.29},{"s":"s46","x":71,"y":-0.24},{"s":"s46","x":74,"y":-0.28},{"s":"s46","x":77,"y":-0.23},{"s":"s46","x":80,"y":-0.27},{"s":"s46","x":83,"y":-0.23},{"s":"s46","x":86,"y":-0.26},{"s":"s46","x":89,"y":-0.22},{"s":"s46","x":92,"y":-0.2},{"s":"s46","x":94,"y":-0.05},{"s":"s46","x":96,"y":0.4},{"s":"s46","x":98,"y":0.8},{"s":"s46","x":100,"y":0.5},{"s":"s46","x":102,"y":-0.25},{"s":"s46","x":104,"y":-0.5},{"s":"s46","x":106,"y":-0.35},{"s":"s46","x":109,"y":-0.25},{"s":"s46","x":112,"y":-0.3},{"s":"s46","x":115,"y":-0.24},{"s":"s46","x":118,"y":-0.28},{"s":"s46","x":121,"y":-0.22},{"s":"s46","x":124,"y":-0.27},{"s":"s46","x":127,"y":-0.22},{"s":"s46","x":130,"y":-0.26},{"s":"s46","x":133,"y":-0.2},{"s":"s46","x":136,"y":-0.25},{"s":"s46","x":139,"y":-0.2},{"s":"s46","x":142,"y":-0.26},{"s":"s46","x":145,"y":-0.22},{"s":"s46","x":148,"y":-0.3},{"s":"s46","x":151,"y":-0.25},{"s":"s46","x":154,"y":-0.34},{"s":"s46","x":157,"y":-0.3},{"s":"s46","x":160,"y":-0.4},{"s":"s46","x":163,"y":-0.34},{"s":"s46","x":166,"y":-0.42},{"s":"s46","x":169,"y":-0.36},{"s":"s46","x":172,"y":-0.4},{"s":"s46","x":175,"y":-0.33},{"s":"s46","x":178,"y":-0.36},{"s":"s46","x":181,"y":-0.3},{"s":"s46","x":184,"y":-0.33},{"s":"s46","x":187,"y":-0.27},{"s":"s46","x":190,"y":-0.3},{"s":"s46","x":193,"y":-0.24},{"s":"s46","x":196,"y":-0.22},{"s":"s46","x":198,"y":-0.14},{"s":"s46","x":200,"y":-0.06},

      {"s":"s47","x":0,"y":0},{"s":"s47","x":2,"y":0.1},{"s":"s47","x":4,"y":0.2},{"s":"s47","x":6,"y":0.3},{"s":"s47","x":8,"y":0.25},{"s":"s47","x":10,"y":0.35},{"s":"s47","x":12,"y":0.3},{"s":"s47","x":15,"y":0.38},{"s":"s47","x":18,"y":0.32},{"s":"s47","x":21,"y":0.36},{"s":"s47","x":24,"y":0.28},{"s":"s47","x":27,"y":0.32},{"s":"s47","x":30,"y":0.25},{"s":"s47","x":33,"y":0.28},{"s":"s47","x":36,"y":0.22},{"s":"s47","x":39,"y":0.25},{"s":"s47","x":42,"y":0.18},{"s":"s47","x":45,"y":0.2},{"s":"s47","x":48,"y":0.15},{"s":"s47","x":51,"y":0.18},{"s":"s47","x":54,"y":0.12},{"s":"s47","x":57,"y":0.15},{"s":"s47","x":60,"y":0.1},{"s":"s47","x":63,"y":0.12},{"s":"s47","x":66,"y":0.08},{"s":"s47","x":69,"y":0.15},{"s":"s47","x":72,"y":0.1},{"s":"s47","x":75,"y":0.13},{"s":"s47","x":78,"y":0.08},{"s":"s47","x":81,"y":0.1},{"s":"s47","x":84,"y":0.05},{"s":"s47","x":87,"y":0.08},{"s":"s47","x":90,"y":0.04},{"s":"s47","x":92,"y":0.06},{"s":"s47","x":94,"y":0.3},{"s":"s47","x":96,"y":0.85},{"s":"s47","x":98,"y":1.3},{"s":"s47","x":100,"y":1.2},{"s":"s47","x":102,"y":0.4},{"s":"s47","x":104,"y":-0.2},{"s":"s47","x":106,"y":-0.05},{"s":"s47","x":109,"y":0.05},{"s":"s47","x":112,"y":0.02},{"s":"s47","x":115,"y":0.06},{"s":"s47","x":118,"y":0.03},{"s":"s47","x":121,"y":0.08},{"s":"s47","x":124,"y":0.05},{"s":"s47","x":127,"y":0.1},{"s":"s47","x":130,"y":0.08},{"s":"s47","x":133,"y":0.14},{"s":"s47","x":136,"y":0.12},{"s":"s47","x":139,"y":0.18},{"s":"s47","x":142,"y":0.16},{"s":"s47","x":145,"y":0.22},{"s":"s47","x":148,"y":0.2},{"s":"s47","x":151,"y":0.26},{"s":"s47","x":154,"y":0.22},{"s":"s47","x":157,"y":0.25},{"s":"s47","x":160,"y":0.2},{"s":"s47","x":163,"y":0.22},{"s":"s47","x":166,"y":0.15},{"s":"s47","x":169,"y":0.18},{"s":"s47","x":172,"y":0.1},{"s":"s47","x":175,"y":0.12},{"s":"s47","x":178,"y":0.06},{"s":"s47","x":181,"y":0.08},{"s":"s47","x":184,"y":0.04},{"s":"s47","x":187,"y":0.05},{"s":"s47","x":190,"y":0.02},{"s":"s47","x":193,"y":0.03},{"s":"s47","x":196,"y":0.0},{"s":"s47","x":198,"y":0.0},{"s":"s47","x":200,"y":0.0},

      {"s":"s48","x":0,"y":0},{"s":"s48","x":2,"y":0.05},{"s":"s48","x":4,"y":0.15},{"s":"s48","x":6,"y":0.1},{"s":"s48","x":8,"y":0.2},{"s":"s48","x":10,"y":0.12},{"s":"s48","x":13,"y":0.18},{"s":"s48","x":16,"y":0.1},{"s":"s48","x":19,"y":0.15},{"s":"s48","x":22,"y":0.08},{"s":"s48","x":25,"y":0.12},{"s":"s48","x":28,"y":0.05},{"s":"s48","x":31,"y":0.1},{"s":"s48","x":34,"y":0.05},{"s":"s48","x":37,"y":0.12},{"s":"s48","x":40,"y":0.08},{"s":"s48","x":43,"y":0.15},{"s":"s48","x":46,"y":0.1},{"s":"s48","x":49,"y":0.18},{"s":"s48","x":52,"y":0.12},{"s":"s48","x":55,"y":0.2},{"s":"s48","x":58,"y":0.15},{"s":"s48","x":61,"y":0.22},{"s":"s48","x":64,"y":0.18},{"s":"s48","x":67,"y":0.25},{"s":"s48","x":70,"y":0.2},{"s":"s48","x":73,"y":0.26},{"s":"s48","x":76,"y":0.18},{"s":"s48","x":79,"y":0.24},{"s":"s48","x":82,"y":0.2},{"s":"s48","x":85,"y":0.27},{"s":"s48","x":88,"y":0.22},{"s":"s48","x":91,"y":0.26},{"s":"s48","x":93,"y":0.25},{"s":"s48","x":95,"y":0.45},{"s":"s48","x":97,"y":0.9},{"s":"s48","x":99,"y":1.1},{"s":"s48","x":101,"y":0.6},{"s":"s48","x":103,"y":0.0},{"s":"s48","x":105,"y":-0.2},{"s":"s48","x":107,"y":-0.1},{"s":"s48","x":110,"y":-0.15},{"s":"s48","x":113,"y":-0.1},{"s":"s48","x":116,"y":-0.16},{"s":"s48","x":119,"y":-0.1},{"s":"s48","x":122,"y":-0.17},{"s":"s48","x":125,"y":-0.12},{"s":"s48","x":128,"y":-0.18},{"s":"s48","x":131,"y":-0.12},{"s":"s48","x":134,"y":-0.2},{"s":"s48","x":137,"y":-0.14},{"s":"s48","x":140,"y":-0.2},{"s":"s48","x":143,"y":-0.15},{"s":"s48","x":146,"y":-0.22},{"s":"s48","x":149,"y":-0.16},{"s":"s48","x":152,"y":-0.22},{"s":"s48","x":155,"y":-0.17},{"s":"s48","x":158,"y":-0.23},{"s":"s48","x":161,"y":-0.18},{"s":"s48","x":164,"y":-0.24},{"s":"s48","x":167,"y":-0.18},{"s":"s48","x":170,"y":-0.25},{"s":"s48","x":173,"y":-0.19},{"s":"s48","x":176,"y":-0.24},{"s":"s48","x":179,"y":-0.18},{"s":"s48","x":182,"y":-0.23},{"s":"s48","x":185,"y":-0.17},{"s":"s48","x":188,"y":-0.22},{"s":"s48","x":191,"y":-0.16},{"s":"s48","x":194,"y":-0.2},{"s":"s48","x":197,"y":-0.12},{"s":"s48","x":200,"y":-0.05},

      {"s":"s49","x":0,"y":0},{"s":"s49","x":2,"y":-0.2},{"s":"s49","x":4,"y":-0.4},{"s":"s49","x":6,"y":-0.5},{"s":"s49","x":8,"y":-0.42},{"s":"s49","x":10,"y":-0.52},{"s":"s49","x":12,"y":-0.44},{"s":"s49","x":14,"y":-0.5},{"s":"s49","x":17,"y":-0.4},{"s":"s49","x":20,"y":-0.46},{"s":"s49","x":23,"y":-0.38},{"s":"s49","x":26,"y":-0.44},{"s":"s49","x":29,"y":-0.36},{"s":"s49","x":32,"y":-0.42},{"s":"s49","x":35,"y":-0.34},{"s":"s49","x":38,"y":-0.4},{"s":"s49","x":41,"y":-0.32},{"s":"s49","x":44,"y":-0.38},{"s":"s49","x":47,"y":-0.3},{"s":"s49","x":50,"y":-0.36},{"s":"s49","x":53,"y":-0.28},{"s":"s49","x":56,"y":-0.34},{"s":"s49","x":59,"y":-0.28},{"s":"s49","x":62,"y":-0.33},{"s":"s49","x":65,"y":-0.26},{"s":"s49","x":68,"y":-0.32},{"s":"s49","x":71,"y":-0.26},{"s":"s49","x":74,"y":-0.3},{"s":"s49","x":77,"y":-0.24},{"s":"s49","x":80,"y":-0.3},{"s":"s49","x":83,"y":-0.24},{"s":"s49","x":86,"y":-0.28},{"s":"s49","x":89,"y":-0.22},{"s":"s49","x":92,"y":-0.2},{"s":"s49","x":94,"y":-0.05},{"s":"s49","x":96,"y":0.35},{"s":"s49","x":98,"y":0.75},{"s":"s49","x":100,"y":0.45},{"s":"s49","x":102,"y":-0.3},{"s":"s49","x":104,"y":-0.6},{"s":"s49","x":106,"y":-0.4},{"s":"s49","x":109,"y":-0.3},{"s":"s49","x":112,"y":-0.26},{"s":"s49","x":115,"y":-0.3},{"s":"s49","x":118,"y":-0.24},{"s":"s49","x":121,"y":-0.3},{"s":"s49","x":123,"y":-0.39},{"s":"s49","x":125,"y":-0.28},{"s":"s49","x":128,"y":-0.24},{"s":"s49","x":131,"y":-0.28},{"s":"s49","x":134,"y":-0.22},{"s":"s49","x":137,"y":-0.27},{"s":"s49","x":140,"y":-0.22},{"s":"s49","x":143,"y":-0.3},{"s":"s49","x":146,"y":-0.25},{"s":"s49","x":149,"y":-0.32},{"s":"s49","x":152,"y":-0.26},{"s":"s49","x":155,"y":-0.3},{"s":"s49","x":158,"y":-0.24},{"s":"s49","x":161,"y":-0.3},{"s":"s49","x":164,"y":-0.23},{"s":"s49","x":167,"y":-0.28},{"s":"s49","x":170,"y":-0.22},{"s":"s49","x":173,"y":-0.27},{"s":"s49","x":176,"y":-0.21},{"s":"s49","x":179,"y":-0.26},{"s":"s49","x":182,"y":-0.2},{"s":"s49","x":185,"y":-0.25},{"s":"s49","x":188,"y":-0.19},{"s":"s49","x":191,"y":-0.23},{"s":"s49","x":194,"y":-0.17},{"s":"s49","x":197,"y":-0.14},{"s":"s49","x":200,"y":-0.06},

      {"s":"s50","x":0,"y":0},{"s":"s50","x":2,"y":0.15},{"s":"s50","x":4,"y":0.3},{"s":"s50","x":6,"y":0.45},{"s":"s50","x":8,"y":0.5},{"s":"s50","x":10,"y":0.55},{"s":"s50","x":12,"y":0.5},{"s":"s50","x":14,"y":0.45},{"s":"s50","x":17,"y":0.38},{"s":"s50","x":20,"y":0.3},{"s":"s50","x":23,"y":0.25},{"s":"s50","x":26,"y":0.2},{"s":"s50","x":29,"y":0.15},{"s":"s50","x":32,"y":0.1},{"s":"s50","x":35,"y":0.05},{"s":"s50","x":38,"y":0.02},{"s":"s50","x":41,"y":-0.02},{"s":"s50","x":44,"y":0.0},{"s":"s50","x":47,"y":-0.04},{"s":"s50","x":50,"y":-0.01},{"s":"s50","x":53,"y":-0.05},{"s":"s50","x":56,"y":-0.02},{"s":"s50","x":59,"y":-0.06},{"s":"s50","x":62,"y":-0.02},{"s":"s50","x":65,"y":-0.05},{"s":"s50","x":68,"y":-0.01},{"s":"s50","x":71,"y":-0.04},{"s":"s50","x":74,"y":0.0},{"s":"s50","x":77,"y":-0.03},{"s":"s50","x":80,"y":0.01},{"s":"s50","x":83,"y":-0.02},{"s":"s50","x":86,"y":0.02},{"s":"s50","x":89,"y":-0.01},{"s":"s50","x":92,"y":0.0},{"s":"s50","x":94,"y":0.15},{"s":"s50","x":96,"y":0.6},{"s":"s50","x":98,"y":0.95},{"s":"s50","x":100,"y":0.75},{"s":"s50","x":102,"y":0.05},{"s":"s50","x":104,"y":-0.3},{"s":"s50","x":106,"y":-0.1},{"s":"s50","x":109,"y":0.0},{"s":"s50","x":112,"y":-0.03},{"s":"s50","x":115,"y":0.02},{"s":"s50","x":118,"y":-0.02},{"s":"s50","x":121,"y":0.04},{"s":"s50","x":124,"y":0.0},{"s":"s50","x":127,"y":0.06},{"s":"s50","x":130,"y":0.02},{"s":"s50","x":133,"y":0.08},{"s":"s50","x":136,"y":0.05},{"s":"s50","x":139,"y":0.12},{"s":"s50","x":142,"y":0.08},{"s":"s50","x":145,"y":0.15},{"s":"s50","x":148,"y":0.1},{"s":"s50","x":151,"y":0.14},{"s":"s50","x":154,"y":0.08},{"s":"s50","x":157,"y":0.1},{"s":"s50","x":160,"y":0.04},{"s":"s50","x":163,"y":0.06},{"s":"s50","x":166,"y":0.0},{"s":"s50","x":169,"y":0.03},{"s":"s50","x":172,"y":-0.02},{"s":"s50","x":175,"y":0.01},{"s":"s50","x":178,"y":-0.03},{"s":"s50","x":181,"y":0.0},{"s":"s50","x":184,"y":-0.04},{"s":"s50","x":187,"y":-0.01},{"s":"s50","x":190,"y":-0.04},{"s":"s50","x":193,"y":-0.02},{"s":"s50","x":196,"y":-0.03},{"s":"s50","x":198,"y":-0.01},{"s":"s50","x":200,"y":0.0}
    ],
    "mean": [
      {"x":0,"y":-0.005},{"x":4,"y":-0.02},{"x":10,"y":-0.035},{"x":20,"y":-0.045},{"x":33,"y":-0.052},{"x":50,"y":-0.053},{"x":60,"y":-0.048},{"x":65,"y":-0.043},{"x":70,"y":-0.033},{"x":73,"y":-0.03},{"x":76,"y":-0.037},{"x":79,"y":-0.03},{"x":82,"y":-0.04},{"x":85,"y":-0.05},{"x":89,"y":-0.065},{"x":92,"y":-0.06},{"x":93.5,"y":0.02},{"x":94.5,"y":0.11},{"x":96.5,"y":0.42},{"x":98.5,"y":0.525},{"x":100.3,"y":0.26},{"x":101.8,"y":-0.02},{"x":103.4,"y":-0.115},{"x":105.2,"y":-0.06},{"x":108,"y":-0.045},{"x":115,"y":-0.035},{"x":123,"y":-0.015},{"x":128,"y":0.0},{"x":132,"y":0.03},{"x":136,"y":0.07},{"x":140,"y":0.112},{"x":145,"y":0.155},{"x":149.5,"y":0.175},{"x":153,"y":0.158},{"x":157,"y":0.105},{"x":160,"y":0.065},{"x":163,"y":0.03},{"x":166,"y":0.012},{"x":172,"y":0.003},{"x":185,"y":0.006},{"x":200,"y":0.012}
    ]
  },
  "layer": [
    {
      "data": {"name": "beats"},
      "mark": {"type": "line", "strokeWidth": 6, "clip": true, "strokeJoin": "round"},
      "encoding": {
        "x": {
          "field": "x",
          "type": "quantitative",
          "scale": {"domain": [-10.06, 208.8], "nice": false, "zero": false},
          "axis": {"values": [0, 200], "labelExpr": "format(datum.value, 'd')"}
        },
        "y": {
          "field": "y",
          "type": "quantitative",
          "scale": {"domain": [-1.5, 1.5], "nice": false, "zero": false},
          "axis": {"values": [-1, 0, 1], "labelExpr": "datum.value < 0 ? '\u2212' + format(-datum.value, 'd') : format(datum.value, 'd')"}
        },
        "color": {
          "field": "s",
          "type": "nominal",
          "legend": null,
          "scale": {
            "domain": ["s01","s02","s03","s04","s05","s06","s07","s08","s09","s10","s11","s12","s13","s14","s15","s16","s17","s18","s19","s20","s21","s22","s23","s24","s25","s26","s27","s28","s29","s30","s31","s32","s33","s34","s35","s36","s37","s38","s39","s40","s41","s42","s43","s44","s45","s46","s47","s48","s49","s50"],
            "range": ["#1f77b4","#ff7f0e","#2ca02c","#d62728","#9467bd","#8c564b","#e377c2","#7f7f7f","#bcbd22","#17becf","#1f77b4","#ff7f0e","#2ca02c","#d62728","#9467bd","#8c564b","#e377c2","#7f7f7f","#bcbd22","#17becf","#1f77b4","#ff7f0e","#2ca02c","#d62728","#9467bd","#8c564b","#e377c2","#7f7f7f","#bcbd22","#17becf","#1f77b4","#ff7f0e","#2ca02c","#d62728","#9467bd","#8c564b","#e377c2","#7f7f7f","#bcbd22","#17becf","#1f77b4","#ff7f0e","#2ca02c","#d62728","#9467bd","#8c564b","#e377c2","#7f7f7f","#bcbd22","#17becf"]
          }
        }
      }
    },
    {
      "data": {"name": "mean"},
      "mark": {"type": "line", "color": "black", "strokeWidth": 13, "clip": true, "strokeJoin": "round"},
      "encoding": {
        "x": {"field": "x", "type": "quantitative"},
        "y": {"field": "y", "type": "quantitative"}
      }
    }
  ],
  "config": {
    "view": {"stroke": "black", "strokeWidth": 3},
    "axis": {
      "title": null,
      "grid": false,
      "domain": false,
      "ticks": true,
      "tickColor": "black",
      "tickWidth": 3,
      "tickSize": 15,
      "labelFont": "Liberation Serif",
      "labelFontSize": 125,
      "labelColor": "black",
      "labelOverlap": false,
      "labelFlush": false,
      "labelLimit": 1000
    },
    "axisX": {"labelPadding": 2},
    "axisY": {"labelPadding": 15}
  }
}
